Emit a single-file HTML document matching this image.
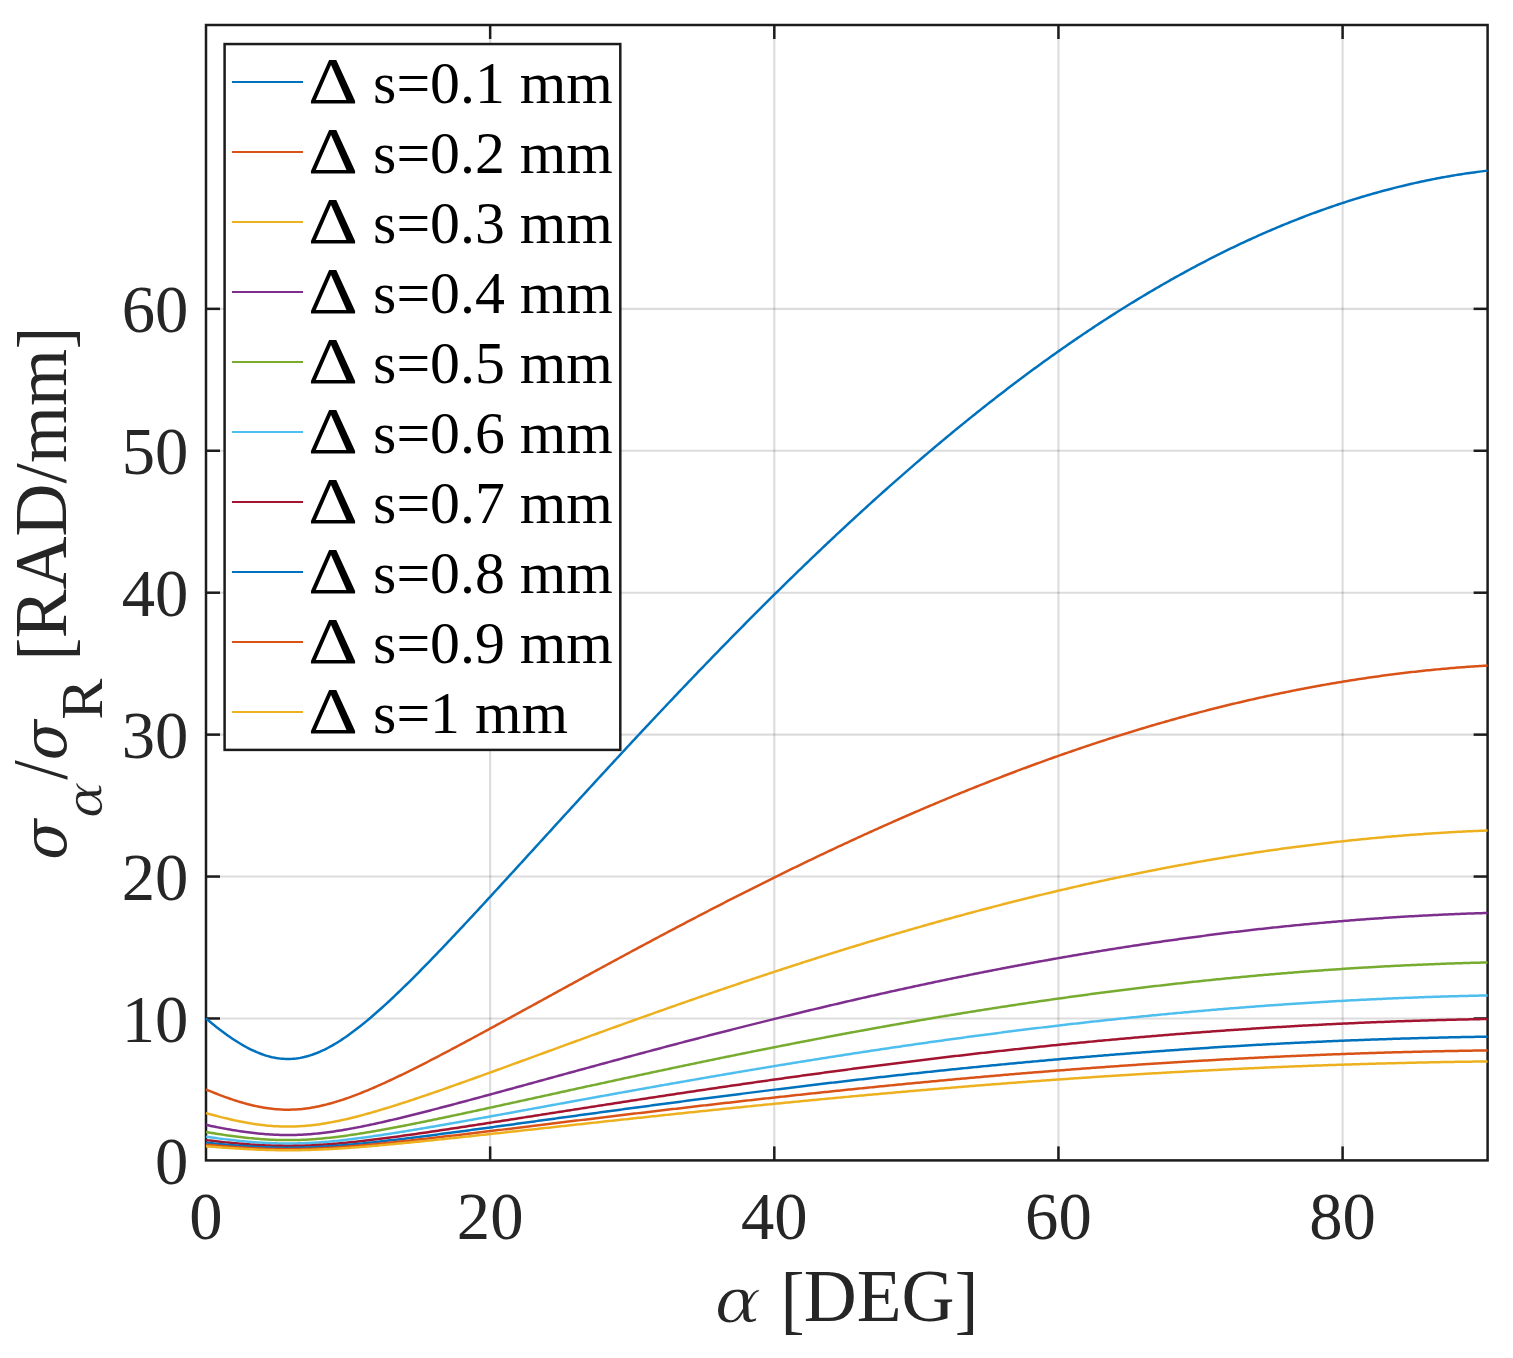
<!DOCTYPE html>
<html lang="en"><head><meta charset="utf-8"><title>sigma alpha / sigma R</title>
<style>html,body{margin:0;padding:0;background:#fff;}body{width:1513px;height:1358px;}svg{display:block;}
text{font-family:'Liberation Serif','DejaVu Serif',serif;fill:#262626;}
.tk{font-size:66.67px;}.lg{font-size:59.80px;fill:#000;}.lb{font-size:73.33px;}
</style></head><body>
<svg width="1513" height="1358" viewBox="0 0 1513 1358" role="img" aria-label="sigma alpha over sigma R versus alpha">
<rect x="0" y="0" width="1513" height="1358" fill="#fff"/>
<g stroke="#262626" stroke-opacity="0.16" stroke-width="2.10" fill="none">
<line x1="490.15" y1="25.00" x2="490.15" y2="1160.40"/>
<line x1="774.30" y1="25.00" x2="774.30" y2="1160.40"/>
<line x1="1058.45" y1="25.00" x2="1058.45" y2="1160.40"/>
<line x1="1342.60" y1="25.00" x2="1342.60" y2="1160.40"/>
<line x1="206.00" y1="1018.48" x2="1487.60" y2="1018.48"/>
<line x1="206.00" y1="876.55" x2="1487.60" y2="876.55"/>
<line x1="206.00" y1="734.63" x2="1487.60" y2="734.63"/>
<line x1="206.00" y1="592.70" x2="1487.60" y2="592.70"/>
<line x1="206.00" y1="450.77" x2="1487.60" y2="450.77"/>
<line x1="206.00" y1="308.85" x2="1487.60" y2="308.85"/>
</g>
<g stroke="#1c1c1c" stroke-width="2.50" fill="none">
<rect x="206.00" y="25.00" width="1281.60" height="1135.40"/>
<line x1="490.15" y1="1160.40" x2="490.15" y2="1146.40"/>
<line x1="490.15" y1="25.00" x2="490.15" y2="39.00"/>
<line x1="774.30" y1="1160.40" x2="774.30" y2="1146.40"/>
<line x1="774.30" y1="25.00" x2="774.30" y2="39.00"/>
<line x1="1058.45" y1="1160.40" x2="1058.45" y2="1146.40"/>
<line x1="1058.45" y1="25.00" x2="1058.45" y2="39.00"/>
<line x1="1342.60" y1="1160.40" x2="1342.60" y2="1146.40"/>
<line x1="1342.60" y1="25.00" x2="1342.60" y2="39.00"/>
<line x1="206.00" y1="1018.48" x2="220.00" y2="1018.48"/>
<line x1="1487.60" y1="1018.48" x2="1473.60" y2="1018.48"/>
<line x1="206.00" y1="876.55" x2="220.00" y2="876.55"/>
<line x1="1487.60" y1="876.55" x2="1473.60" y2="876.55"/>
<line x1="206.00" y1="734.63" x2="220.00" y2="734.63"/>
<line x1="1487.60" y1="734.63" x2="1473.60" y2="734.63"/>
<line x1="206.00" y1="592.70" x2="220.00" y2="592.70"/>
<line x1="1487.60" y1="592.70" x2="1473.60" y2="592.70"/>
<line x1="206.00" y1="450.77" x2="220.00" y2="450.77"/>
<line x1="1487.60" y1="450.77" x2="1473.60" y2="450.77"/>
<line x1="206.00" y1="308.85" x2="220.00" y2="308.85"/>
<line x1="1487.60" y1="308.85" x2="1473.60" y2="308.85"/>
</g>
<g fill="none" stroke-width="2.50" stroke-linejoin="round">
<polyline stroke="#0072BD" points="206.00,1018.48 208.00,1020.16 210.00,1021.82 212.01,1023.46 214.01,1025.07 216.01,1026.67 218.01,1028.23 220.02,1029.77 222.02,1031.29 224.02,1032.77 226.03,1034.23 228.03,1035.66 230.03,1037.06 232.03,1038.42 234.03,1039.75 236.04,1041.05 238.04,1042.31 240.04,1043.54 242.04,1044.72 244.05,1045.87 246.05,1046.98 248.05,1048.05 250.06,1049.07 252.06,1050.05 254.06,1050.98 256.06,1051.87 258.06,1052.71 260.07,1053.50 262.07,1054.24 264.07,1054.94 266.07,1055.58 268.08,1056.16 270.08,1056.69 272.08,1057.17 274.08,1057.60 276.09,1057.96 278.09,1058.27 280.09,1058.53 282.10,1058.72 284.10,1058.86 286.10,1058.94 288.10,1058.96 290.11,1058.92 292.11,1058.83 294.11,1058.67 296.11,1058.46 298.12,1058.19 300.12,1057.87 302.12,1057.48 304.12,1057.04 306.12,1056.55 308.13,1056.00 310.13,1055.40 312.13,1054.75 314.13,1054.04 316.14,1053.29 318.14,1052.48 320.14,1051.63 322.14,1050.72 324.15,1049.78 326.15,1048.79 328.15,1047.75 330.15,1046.67 332.16,1045.55 334.16,1044.39 336.16,1043.20 338.16,1041.96 340.17,1040.69 342.17,1039.38 344.17,1038.04 346.17,1036.67 348.18,1035.26 350.18,1033.83 352.18,1032.36 354.18,1030.87 356.19,1029.34 358.19,1027.80 360.19,1026.22 362.19,1024.62 364.20,1023.00 366.20,1021.36 368.20,1019.69 370.20,1018.00 372.21,1016.29 374.21,1014.56 376.21,1012.81 378.21,1011.05 380.22,1009.26 382.22,1007.46 384.22,1005.65 386.23,1003.81 388.23,1001.97 390.23,1000.10 392.23,998.23 394.23,996.34 396.24,994.44 398.24,992.52 400.24,990.59 402.25,988.65 404.25,986.70 406.25,984.74 408.25,982.77 410.25,980.79 412.26,978.80 414.26,976.80 416.26,974.80 418.26,972.78 420.27,970.75 422.27,968.72 424.27,966.68 426.27,964.63 428.28,962.58 430.28,960.52 432.28,958.45 434.28,956.37 436.29,954.29 438.29,952.21 440.29,950.12 442.30,948.02 444.30,945.92 446.30,943.81 448.30,941.70 450.30,939.58 452.31,937.46 454.31,935.34 456.31,933.21 458.31,931.08 460.32,928.94 462.32,926.80 464.32,924.66 466.32,922.51 468.33,920.36 470.33,918.21 472.33,916.05 474.33,913.89 476.34,911.73 478.34,909.57 480.34,907.40 482.34,905.23 484.35,903.06 486.35,900.89 488.35,898.72 490.36,896.54 492.36,894.36 494.36,892.18 496.36,890.00 498.37,887.82 500.37,885.63 502.37,883.45 504.37,881.26 506.37,879.07 508.38,876.88 510.38,874.69 512.38,872.50 514.38,870.31 516.39,868.12 518.39,865.93 520.39,863.73 522.39,861.54 524.40,859.34 526.40,857.15 528.40,854.95 530.40,852.76 532.41,850.56 534.41,848.36 536.41,846.17 538.41,843.97 540.42,841.77 542.42,839.58 544.42,837.38 546.42,835.18 548.43,832.99 550.43,830.79 552.43,828.60 554.43,826.40 556.44,824.21 558.44,822.01 560.44,819.82 562.44,817.62 564.45,815.43 566.45,813.24 568.45,811.05 570.45,808.86 572.46,806.66 574.46,804.48 576.46,802.29 578.46,800.10 580.47,797.91 582.47,795.72 584.47,793.54 586.47,791.35 588.48,789.17 590.48,786.99 592.48,784.81 594.48,782.63 596.49,780.45 598.49,778.27 600.49,776.09 602.50,773.92 604.50,771.74 606.50,769.57 608.50,767.40 610.50,765.23 612.51,763.06 614.51,760.89 616.51,758.73 618.52,756.56 620.52,754.40 622.52,752.24 624.52,750.08 626.53,747.92 628.53,745.76 630.53,743.61 632.53,741.46 634.53,739.30 636.54,737.15 638.54,735.01 640.54,732.86 642.54,730.72 644.55,728.57 646.55,726.43 648.55,724.29 650.56,722.16 652.56,720.02 654.56,717.89 656.56,715.76 658.56,713.63 660.57,711.50 662.57,709.37 664.57,707.25 666.58,705.13 668.58,703.01 670.58,700.89 672.58,698.78 674.59,696.67 676.59,694.56 678.59,692.45 680.59,690.34 682.60,688.24 684.60,686.14 686.60,684.04 688.60,681.94 690.61,679.85 692.61,677.75 694.61,675.66 696.61,673.58 698.62,671.49 700.62,669.41 702.62,667.33 704.62,665.25 706.62,663.18 708.63,661.10 710.63,659.03 712.63,656.97 714.63,654.90 716.64,652.84 718.64,650.78 720.64,648.72 722.64,646.67 724.65,644.62 726.65,642.57 728.65,640.52 730.65,638.48 732.66,636.44 734.66,634.40 736.66,632.36 738.66,630.33 740.67,628.30 742.67,626.27 744.67,624.25 746.68,622.23 748.68,620.21 750.68,618.19 752.68,616.18 754.68,614.17 756.69,612.16 758.69,610.16 760.69,608.16 762.69,606.16 764.70,604.16 766.70,602.17 768.70,600.18 770.70,598.20 772.71,596.21 774.71,594.23 776.71,592.26 778.71,590.28 780.72,588.31 782.72,586.34 784.72,584.38 786.73,582.42 788.73,580.46 790.73,578.51 792.73,576.55 794.74,574.61 796.74,572.66 798.74,570.72 800.74,568.78 802.75,566.85 804.75,564.91 806.75,562.98 808.75,561.06 810.75,559.14 812.76,557.22 814.76,555.30 816.76,553.39 818.76,551.48 820.77,549.58 822.77,547.68 824.77,545.78 826.77,543.88 828.78,541.99 830.78,540.10 832.78,538.22 834.78,536.34 836.79,534.46 838.79,532.59 840.79,530.72 842.79,528.85 844.80,526.99 846.80,525.13 848.80,523.27 850.80,521.42 852.81,519.57 854.81,517.73 856.81,515.88 858.82,514.05 860.82,512.21 862.82,510.38 864.82,508.56 866.82,506.73 868.83,504.91 870.83,503.10 872.83,501.29 874.83,499.48 876.84,497.67 878.84,495.87 880.84,494.08 882.84,492.28 884.85,490.50 886.85,488.71 888.85,486.93 890.86,485.15 892.86,483.38 894.86,481.61 896.86,479.84 898.87,478.08 900.87,476.33 902.87,474.57 904.87,472.82 906.87,471.08 908.88,469.33 910.88,467.60 912.88,465.86 914.88,464.13 916.89,462.41 918.89,460.69 920.89,458.97 922.89,457.25 924.90,455.54 926.90,453.84 928.90,452.14 930.90,450.44 932.91,448.75 934.91,447.06 936.91,445.37 938.91,443.69 940.92,442.02 942.92,440.34 944.92,438.68 946.92,437.01 948.93,435.35 950.93,433.70 952.93,432.05 954.93,430.40 956.94,428.76 958.94,427.12 960.94,425.48 962.95,423.85 964.95,422.23 966.95,420.61 968.95,418.99 970.95,417.38 972.96,415.77 974.96,414.16 976.96,412.57 978.97,410.97 980.97,409.38 982.97,407.79 984.97,406.21 986.98,404.63 988.98,403.06 990.98,401.49 992.98,399.93 994.98,398.37 996.99,396.81 998.99,395.26 1000.99,393.72 1003.00,392.17 1005.00,390.64 1007.00,389.10 1009.00,387.58 1011.00,386.05 1013.01,384.53 1015.01,383.02 1017.01,381.51 1019.01,380.00 1021.02,378.50 1023.02,377.01 1025.02,375.51 1027.02,374.03 1029.03,372.54 1031.03,371.07 1033.03,369.59 1035.03,368.13 1037.04,366.66 1039.04,365.20 1041.04,363.75 1043.04,362.30 1045.05,360.85 1047.05,359.41 1049.05,357.98 1051.05,356.55 1053.06,355.12 1055.06,353.70 1057.06,352.28 1059.06,350.87 1061.07,349.46 1063.07,348.06 1065.07,346.67 1067.07,345.27 1069.08,343.89 1071.08,342.50 1073.08,341.12 1075.09,339.75 1077.09,338.38 1079.09,337.02 1081.09,335.66 1083.10,334.31 1085.10,332.96 1087.10,331.61 1089.10,330.28 1091.11,328.94 1093.11,327.61 1095.11,326.29 1097.11,324.97 1099.11,323.65 1101.12,322.34 1103.12,321.04 1105.12,319.74 1107.12,318.45 1109.13,317.16 1111.13,315.87 1113.13,314.59 1115.14,313.32 1117.14,312.05 1119.14,310.78 1121.14,309.52 1123.14,308.27 1125.15,307.02 1127.15,305.78 1129.15,304.54 1131.15,303.30 1133.16,302.07 1135.16,300.85 1137.16,299.63 1139.16,298.42 1141.17,297.21 1143.17,296.01 1145.17,294.81 1147.17,293.62 1149.18,292.43 1151.18,291.24 1153.18,290.07 1155.18,288.89 1157.19,287.73 1159.19,286.57 1161.19,285.41 1163.20,284.26 1165.20,283.11 1167.20,281.97 1169.20,280.83 1171.20,279.70 1173.21,278.58 1175.21,277.46 1177.21,276.34 1179.21,275.23 1181.22,274.13 1183.22,273.03 1185.22,271.93 1187.22,270.84 1189.23,269.76 1191.23,268.68 1193.23,267.61 1195.23,266.54 1197.24,265.48 1199.24,264.42 1201.24,263.37 1203.24,262.33 1205.25,261.29 1207.25,260.25 1209.25,259.22 1211.26,258.20 1213.26,257.18 1215.26,256.16 1217.26,255.15 1219.26,254.15 1221.27,253.15 1223.27,252.16 1225.27,251.17 1227.28,250.19 1229.28,249.22 1231.28,248.24 1233.28,247.28 1235.28,246.32 1237.29,245.37 1239.29,244.42 1241.29,243.47 1243.29,242.54 1245.30,241.60 1247.30,240.68 1249.30,239.75 1251.30,238.84 1253.31,237.93 1255.31,237.02 1257.31,236.12 1259.32,235.23 1261.32,234.34 1263.32,233.46 1265.32,232.58 1267.32,231.71 1269.33,230.84 1271.33,229.98 1273.33,229.13 1275.33,228.28 1277.34,227.43 1279.34,226.59 1281.34,225.76 1283.35,224.93 1285.35,224.11 1287.35,223.30 1289.35,222.49 1291.36,221.68 1293.36,220.88 1295.36,220.09 1297.36,219.30 1299.37,218.52 1301.37,217.74 1303.37,216.97 1305.37,216.20 1307.37,215.44 1309.38,214.69 1311.38,213.94 1313.38,213.20 1315.38,212.46 1317.39,211.73 1319.39,211.00 1321.39,210.28 1323.39,209.57 1325.40,208.86 1327.40,208.15 1329.40,207.46 1331.40,206.76 1333.41,206.08 1335.41,205.40 1337.41,204.72 1339.41,204.05 1341.42,203.39 1343.42,202.73 1345.42,202.08 1347.42,201.43 1349.43,200.79 1351.43,200.16 1353.43,199.53 1355.43,198.91 1357.44,198.29 1359.44,197.68 1361.44,197.07 1363.44,196.47 1365.45,195.88 1367.45,195.29 1369.45,194.71 1371.45,194.13 1373.46,193.56 1375.46,192.99 1377.46,192.43 1379.46,191.88 1381.47,191.33 1383.47,190.79 1385.47,190.25 1387.47,189.72 1389.48,189.19 1391.48,188.67 1393.48,188.16 1395.48,187.65 1397.49,187.15 1399.49,186.66 1401.49,186.17 1403.49,185.68 1405.50,185.20 1407.50,184.73 1409.50,184.26 1411.50,183.80 1413.51,183.35 1415.51,182.90 1417.51,182.45 1419.52,182.02 1421.52,181.59 1423.52,181.16 1425.52,180.74 1427.53,180.33 1429.53,179.92 1431.53,179.51 1433.53,179.12 1435.53,178.73 1437.54,178.34 1439.54,177.96 1441.54,177.59 1443.55,177.22 1445.55,176.86 1447.55,176.51 1449.55,176.16 1451.55,175.81 1453.56,175.48 1455.56,175.14 1457.56,174.82 1459.56,174.50 1461.57,174.18 1463.57,173.88 1465.57,173.57 1467.58,173.28 1469.58,172.99 1471.58,172.70 1473.58,172.42 1475.58,172.15 1477.59,171.88 1479.59,171.62 1481.59,171.37 1483.59,171.12 1485.60,170.88 1487.60,170.64"/>
<polyline stroke="#D95319" points="206.00,1089.44 208.00,1090.28 210.00,1091.11 212.01,1091.93 214.01,1092.74 216.01,1093.53 218.01,1094.32 220.02,1095.09 222.02,1095.84 224.02,1096.59 226.03,1097.32 228.03,1098.03 230.03,1098.73 232.03,1099.41 234.03,1100.08 236.04,1100.72 238.04,1101.36 240.04,1101.97 242.04,1102.56 244.05,1103.14 246.05,1103.69 248.05,1104.22 250.06,1104.73 252.06,1105.22 254.06,1105.69 256.06,1106.14 258.06,1106.56 260.07,1106.95 262.07,1107.32 264.07,1107.67 266.07,1107.99 268.08,1108.28 270.08,1108.55 272.08,1108.79 274.08,1109.00 276.09,1109.18 278.09,1109.34 280.09,1109.46 282.10,1109.56 284.10,1109.63 286.10,1109.67 288.10,1109.68 290.11,1109.66 292.11,1109.61 294.11,1109.54 296.11,1109.43 298.12,1109.30 300.12,1109.13 302.12,1108.94 304.12,1108.72 306.12,1108.48 308.13,1108.20 310.13,1107.90 312.13,1107.57 314.13,1107.22 316.14,1106.84 318.14,1106.44 320.14,1106.01 322.14,1105.56 324.15,1105.09 326.15,1104.59 328.15,1104.08 330.15,1103.54 332.16,1102.98 334.16,1102.40 336.16,1101.80 338.16,1101.18 340.17,1100.54 342.17,1099.89 344.17,1099.22 346.17,1098.53 348.18,1097.83 350.18,1097.11 352.18,1096.38 354.18,1095.63 356.19,1094.87 358.19,1094.10 360.19,1093.31 362.19,1092.51 364.20,1091.70 366.20,1090.88 368.20,1090.04 370.20,1089.20 372.21,1088.35 374.21,1087.48 376.21,1086.61 378.21,1085.72 380.22,1084.83 382.22,1083.93 384.22,1083.02 386.23,1082.11 388.23,1081.18 390.23,1080.25 392.23,1079.31 394.23,1078.37 396.24,1077.42 398.24,1076.46 400.24,1075.50 402.25,1074.53 404.25,1073.55 406.25,1072.57 408.25,1071.59 410.25,1070.60 412.26,1069.60 414.26,1068.60 416.26,1067.60 418.26,1066.59 420.27,1065.58 422.27,1064.56 424.27,1063.54 426.27,1062.52 428.28,1061.49 430.28,1060.46 432.28,1059.42 434.28,1058.39 436.29,1057.35 438.29,1056.30 440.29,1055.26 442.30,1054.21 444.30,1053.16 446.30,1052.11 448.30,1051.05 450.30,1049.99 452.31,1048.93 454.31,1047.87 456.31,1046.80 458.31,1045.74 460.32,1044.67 462.32,1043.60 464.32,1042.53 466.32,1041.45 468.33,1040.38 470.33,1039.30 472.33,1038.23 474.33,1037.15 476.34,1036.07 478.34,1034.98 480.34,1033.90 482.34,1032.82 484.35,1031.73 486.35,1030.64 488.35,1029.56 490.36,1028.47 492.36,1027.38 494.36,1026.29 496.36,1025.20 498.37,1024.11 500.37,1023.02 502.37,1021.92 504.37,1020.83 506.37,1019.74 508.38,1018.64 510.38,1017.55 512.38,1016.45 514.38,1015.36 516.39,1014.26 518.39,1013.16 520.39,1012.07 522.39,1010.97 524.40,1009.87 526.40,1008.77 528.40,1007.68 530.40,1006.58 532.41,1005.48 534.41,1004.38 536.41,1003.28 538.41,1002.19 540.42,1001.09 542.42,999.99 544.42,998.89 546.42,997.79 548.43,996.69 550.43,995.60 552.43,994.50 554.43,993.40 556.44,992.30 558.44,991.21 560.44,990.11 562.44,989.01 564.45,987.92 566.45,986.82 568.45,985.72 570.45,984.63 572.46,983.53 574.46,982.44 576.46,981.34 578.46,980.25 580.47,979.16 582.47,978.06 584.47,976.97 586.47,975.88 588.48,974.79 590.48,973.69 592.48,972.60 594.48,971.51 596.49,970.42 598.49,969.34 600.49,968.25 602.50,967.16 604.50,966.07 606.50,964.99 608.50,963.90 610.50,962.81 612.51,961.73 614.51,960.65 616.51,959.56 618.52,958.48 620.52,957.40 622.52,956.32 624.52,955.24 626.53,954.16 628.53,953.08 630.53,952.00 632.53,950.93 634.53,949.85 636.54,948.78 638.54,947.70 640.54,946.63 642.54,945.56 644.55,944.49 646.55,943.42 648.55,942.35 650.56,941.28 652.56,940.21 654.56,939.14 656.56,938.08 658.56,937.01 660.57,935.95 662.57,934.89 664.57,933.83 666.58,932.76 668.58,931.71 670.58,930.65 672.58,929.59 674.59,928.53 676.59,927.48 678.59,926.42 680.59,925.37 682.60,924.32 684.60,923.27 686.60,922.22 688.60,921.17 690.61,920.12 692.61,919.08 694.61,918.03 696.61,916.99 698.62,915.95 700.62,914.91 702.62,913.87 704.62,912.83 706.62,911.79 708.63,910.75 710.63,909.72 712.63,908.68 714.63,907.65 716.64,906.62 718.64,905.59 720.64,904.56 722.64,903.53 724.65,902.51 726.65,901.48 728.65,900.46 730.65,899.44 732.66,898.42 734.66,897.40 736.66,896.38 738.66,895.36 740.67,894.35 742.67,893.34 744.67,892.32 746.68,891.31 748.68,890.30 750.68,889.30 752.68,888.29 754.68,887.28 756.69,886.28 758.69,885.28 760.69,884.28 762.69,883.28 764.70,882.28 766.70,881.29 768.70,880.29 770.70,879.30 772.71,878.31 774.71,877.32 776.71,876.33 778.71,875.34 780.72,874.36 782.72,873.37 784.72,872.39 786.73,871.41 788.73,870.43 790.73,869.45 792.73,868.48 794.74,867.50 796.74,866.53 798.74,865.56 800.74,864.59 802.75,863.62 804.75,862.66 806.75,861.69 808.75,860.73 810.75,859.77 812.76,858.81 814.76,857.85 816.76,856.90 818.76,855.94 820.77,854.99 822.77,854.04 824.77,853.09 826.77,852.14 828.78,851.20 830.78,850.25 832.78,849.31 834.78,848.37 836.79,847.43 838.79,846.49 840.79,845.56 842.79,844.63 844.80,843.69 846.80,842.76 848.80,841.84 850.80,840.91 852.81,839.99 854.81,839.06 856.81,838.14 858.82,837.22 860.82,836.31 862.82,835.39 864.82,834.48 866.82,833.57 868.83,832.66 870.83,831.75 872.83,830.84 874.83,829.94 876.84,829.04 878.84,828.14 880.84,827.24 882.84,826.34 884.85,825.45 886.85,824.56 888.85,823.67 890.86,822.78 892.86,821.89 894.86,821.01 896.86,820.12 898.87,819.24 900.87,818.36 902.87,817.49 904.87,816.61 906.87,815.74 908.88,814.87 910.88,814.00 912.88,813.13 914.88,812.27 916.89,811.40 918.89,810.54 920.89,809.68 922.89,808.83 924.90,807.97 926.90,807.12 928.90,806.27 930.90,805.42 932.91,804.57 934.91,803.73 936.91,802.89 938.91,802.05 940.92,801.21 942.92,800.37 944.92,799.54 946.92,798.71 948.93,797.88 950.93,797.05 952.93,796.22 954.93,795.40 956.94,794.58 958.94,793.76 960.94,792.94 962.95,792.13 964.95,791.31 966.95,790.50 968.95,789.69 970.95,788.89 972.96,788.08 974.96,787.28 976.96,786.48 978.97,785.69 980.97,784.89 982.97,784.10 984.97,783.31 986.98,782.52 988.98,781.73 990.98,780.95 992.98,780.16 994.98,779.38 996.99,778.61 998.99,777.83 1000.99,777.06 1003.00,776.29 1005.00,775.52 1007.00,774.75 1009.00,773.99 1011.00,773.23 1013.01,772.47 1015.01,771.71 1017.01,770.95 1019.01,770.20 1021.02,769.45 1023.02,768.70 1025.02,767.96 1027.02,767.21 1029.03,766.47 1031.03,765.73 1033.03,765.00 1035.03,764.26 1037.04,763.53 1039.04,762.80 1041.04,762.07 1043.04,761.35 1045.05,760.63 1047.05,759.91 1049.05,759.19 1051.05,758.47 1053.06,757.76 1055.06,757.05 1057.06,756.34 1059.06,755.64 1061.07,754.93 1063.07,754.23 1065.07,753.53 1067.07,752.84 1069.08,752.14 1071.08,751.45 1073.08,750.76 1075.09,750.08 1077.09,749.39 1079.09,748.71 1081.09,748.03 1083.10,747.35 1085.10,746.68 1087.10,746.01 1089.10,745.34 1091.11,744.67 1093.11,744.01 1095.11,743.34 1097.11,742.68 1099.11,742.03 1101.12,741.37 1103.12,740.72 1105.12,740.07 1107.12,739.42 1109.13,738.78 1111.13,738.14 1113.13,737.50 1115.14,736.86 1117.14,736.22 1119.14,735.59 1121.14,734.96 1123.14,734.34 1125.15,733.71 1127.15,733.09 1129.15,732.47 1131.15,731.85 1133.16,731.24 1135.16,730.63 1137.16,730.02 1139.16,729.41 1141.17,728.81 1143.17,728.20 1145.17,727.60 1147.17,727.01 1149.18,726.41 1151.18,725.82 1153.18,725.23 1155.18,724.65 1157.19,724.06 1159.19,723.48 1161.19,722.90 1163.20,722.33 1165.20,721.75 1167.20,721.18 1169.20,720.62 1171.20,720.05 1173.21,719.49 1175.21,718.93 1177.21,718.37 1179.21,717.82 1181.22,717.26 1183.22,716.71 1185.22,716.17 1187.22,715.62 1189.23,715.08 1191.23,714.54 1193.23,714.01 1195.23,713.47 1197.24,712.94 1199.24,712.41 1201.24,711.89 1203.24,711.36 1205.25,710.84 1207.25,710.32 1209.25,709.81 1211.26,709.30 1213.26,708.79 1215.26,708.28 1217.26,707.78 1219.26,707.28 1221.27,706.78 1223.27,706.28 1225.27,705.79 1227.28,705.30 1229.28,704.81 1231.28,704.32 1233.28,703.84 1235.28,703.36 1237.29,702.88 1239.29,702.41 1241.29,701.94 1243.29,701.47 1245.30,701.00 1247.30,700.54 1249.30,700.08 1251.30,699.62 1253.31,699.16 1255.31,698.71 1257.31,698.26 1259.32,697.81 1261.32,697.37 1263.32,696.93 1265.32,696.49 1267.32,696.05 1269.33,695.62 1271.33,695.19 1273.33,694.76 1275.33,694.34 1277.34,693.92 1279.34,693.50 1281.34,693.08 1283.35,692.67 1285.35,692.26 1287.35,691.85 1289.35,691.44 1291.36,691.04 1293.36,690.64 1295.36,690.24 1297.36,689.85 1299.37,689.46 1301.37,689.07 1303.37,688.68 1305.37,688.30 1307.37,687.92 1309.38,687.54 1311.38,687.17 1313.38,686.80 1315.38,686.43 1317.39,686.06 1319.39,685.70 1321.39,685.34 1323.39,684.98 1325.40,684.63 1327.40,684.28 1329.40,683.93 1331.40,683.58 1333.41,683.24 1335.41,682.90 1337.41,682.56 1339.41,682.23 1341.42,681.90 1343.42,681.57 1345.42,681.24 1347.42,680.92 1349.43,680.60 1351.43,680.28 1353.43,679.97 1355.43,679.65 1357.44,679.34 1359.44,679.04 1361.44,678.74 1363.44,678.44 1365.45,678.14 1367.45,677.84 1369.45,677.55 1371.45,677.26 1373.46,676.98 1375.46,676.70 1377.46,676.42 1379.46,676.14 1381.47,675.86 1383.47,675.59 1385.47,675.32 1387.47,675.06 1389.48,674.80 1391.48,674.54 1393.48,674.28 1395.48,674.03 1397.49,673.78 1399.49,673.53 1401.49,673.28 1403.49,673.04 1405.50,672.80 1407.50,672.57 1409.50,672.33 1411.50,672.10 1413.51,671.87 1415.51,671.65 1417.51,671.43 1419.52,671.21 1421.52,670.99 1423.52,670.78 1425.52,670.57 1427.53,670.36 1429.53,670.16 1431.53,669.96 1433.53,669.76 1435.53,669.56 1437.54,669.37 1439.54,669.18 1441.54,669.00 1443.55,668.81 1445.55,668.63 1447.55,668.45 1449.55,668.28 1451.55,668.11 1453.56,667.94 1455.56,667.77 1457.56,667.61 1459.56,667.45 1461.57,667.29 1463.57,667.14 1465.57,666.99 1467.58,666.84 1469.58,666.69 1471.58,666.55 1473.58,666.41 1475.58,666.28 1477.59,666.14 1479.59,666.01 1481.59,665.88 1483.59,665.76 1485.60,665.64 1487.60,665.52"/>
<polyline stroke="#EDB120" points="206.00,1113.09 208.00,1113.65 210.00,1114.21 212.01,1114.75 214.01,1115.29 216.01,1115.82 218.01,1116.34 220.02,1116.86 222.02,1117.36 224.02,1117.86 226.03,1118.34 228.03,1118.82 230.03,1119.29 232.03,1119.74 234.03,1120.18 236.04,1120.62 238.04,1121.04 240.04,1121.45 242.04,1121.84 244.05,1122.22 246.05,1122.59 248.05,1122.95 250.06,1123.29 252.06,1123.62 254.06,1123.93 256.06,1124.22 258.06,1124.50 260.07,1124.77 262.07,1125.01 264.07,1125.25 266.07,1125.46 268.08,1125.65 270.08,1125.83 272.08,1125.99 274.08,1126.13 276.09,1126.25 278.09,1126.36 280.09,1126.44 282.10,1126.51 284.10,1126.55 286.10,1126.58 288.10,1126.59 290.11,1126.57 292.11,1126.54 294.11,1126.49 296.11,1126.42 298.12,1126.33 300.12,1126.22 302.12,1126.09 304.12,1125.95 306.12,1125.78 308.13,1125.60 310.13,1125.40 312.13,1125.18 314.13,1124.95 316.14,1124.70 318.14,1124.43 320.14,1124.14 322.14,1123.84 324.15,1123.53 326.15,1123.20 328.15,1122.85 330.15,1122.49 332.16,1122.12 334.16,1121.73 336.16,1121.33 338.16,1120.92 340.17,1120.50 342.17,1120.06 344.17,1119.61 346.17,1119.16 348.18,1118.69 350.18,1118.21 352.18,1117.72 354.18,1117.22 356.19,1116.71 358.19,1116.20 360.19,1115.67 362.19,1115.14 364.20,1114.60 366.20,1114.05 368.20,1113.50 370.20,1112.93 372.21,1112.36 374.21,1111.79 376.21,1111.20 378.21,1110.62 380.22,1110.02 382.22,1109.42 384.22,1108.82 386.23,1108.20 388.23,1107.59 390.23,1106.97 392.23,1106.34 394.23,1105.71 396.24,1105.08 398.24,1104.44 400.24,1103.80 402.25,1103.15 404.25,1102.50 406.25,1101.85 408.25,1101.19 410.25,1100.53 412.26,1099.87 414.26,1099.20 416.26,1098.53 418.26,1097.86 420.27,1097.18 422.27,1096.51 424.27,1095.83 426.27,1095.14 428.28,1094.46 430.28,1093.77 432.28,1093.08 434.28,1092.39 436.29,1091.70 438.29,1091.00 440.29,1090.31 442.30,1089.61 444.30,1088.91 446.30,1088.20 448.30,1087.50 450.30,1086.79 452.31,1086.09 454.31,1085.38 456.31,1084.67 458.31,1083.96 460.32,1083.25 462.32,1082.53 464.32,1081.82 466.32,1081.10 468.33,1080.39 470.33,1079.67 472.33,1078.95 474.33,1078.23 476.34,1077.51 478.34,1076.79 480.34,1076.07 482.34,1075.34 484.35,1074.62 486.35,1073.90 488.35,1073.17 490.36,1072.45 492.36,1071.72 494.36,1070.99 496.36,1070.27 498.37,1069.54 500.37,1068.81 502.37,1068.08 504.37,1067.35 506.37,1066.62 508.38,1065.89 510.38,1065.16 512.38,1064.43 514.38,1063.70 516.39,1062.97 518.39,1062.24 520.39,1061.51 522.39,1060.78 524.40,1060.05 526.40,1059.32 528.40,1058.58 530.40,1057.85 532.41,1057.12 534.41,1056.39 536.41,1055.66 538.41,1054.92 540.42,1054.19 542.42,1053.46 544.42,1052.73 546.42,1051.99 548.43,1051.26 550.43,1050.53 552.43,1049.80 554.43,1049.07 556.44,1048.34 558.44,1047.60 560.44,1046.87 562.44,1046.14 564.45,1045.41 566.45,1044.68 568.45,1043.95 570.45,1043.22 572.46,1042.49 574.46,1041.76 576.46,1041.03 578.46,1040.30 580.47,1039.57 582.47,1038.84 584.47,1038.11 586.47,1037.38 588.48,1036.66 590.48,1035.93 592.48,1035.20 594.48,1034.48 596.49,1033.75 598.49,1033.02 600.49,1032.30 602.50,1031.57 604.50,1030.85 606.50,1030.12 608.50,1029.40 610.50,1028.68 612.51,1027.95 614.51,1027.23 616.51,1026.51 618.52,1025.79 620.52,1025.07 622.52,1024.35 624.52,1023.63 626.53,1022.91 628.53,1022.19 630.53,1021.47 632.53,1020.75 634.53,1020.03 636.54,1019.32 638.54,1018.60 640.54,1017.89 642.54,1017.17 644.55,1016.46 646.55,1015.74 648.55,1015.03 650.56,1014.32 652.56,1013.61 654.56,1012.90 656.56,1012.19 658.56,1011.48 660.57,1010.77 662.57,1010.06 664.57,1009.35 666.58,1008.64 668.58,1007.94 670.58,1007.23 672.58,1006.53 674.59,1005.82 676.59,1005.12 678.59,1004.42 680.59,1003.71 682.60,1003.01 684.60,1002.31 686.60,1001.61 688.60,1000.91 690.61,1000.22 692.61,999.52 694.61,998.82 696.61,998.13 698.62,997.43 700.62,996.74 702.62,996.04 704.62,995.35 706.62,994.66 708.63,993.97 710.63,993.28 712.63,992.59 714.63,991.90 716.64,991.21 718.64,990.53 720.64,989.84 722.64,989.16 724.65,988.47 726.65,987.79 728.65,987.11 730.65,986.43 732.66,985.75 734.66,985.07 736.66,984.39 738.66,983.71 740.67,983.03 742.67,982.36 744.67,981.68 746.68,981.01 748.68,980.34 750.68,979.66 752.68,978.99 754.68,978.32 756.69,977.65 758.69,976.99 760.69,976.32 762.69,975.65 764.70,974.99 766.70,974.32 768.70,973.66 770.70,973.00 772.71,972.34 774.71,971.68 776.71,971.02 778.71,970.36 780.72,969.70 782.72,969.05 784.72,968.39 786.73,967.74 788.73,967.09 790.73,966.44 792.73,965.78 794.74,965.14 796.74,964.49 798.74,963.84 800.74,963.19 802.75,962.55 804.75,961.90 806.75,961.26 808.75,960.62 810.75,959.98 812.76,959.34 814.76,958.70 816.76,958.06 818.76,957.43 820.77,956.79 822.77,956.16 824.77,955.53 826.77,954.89 828.78,954.26 830.78,953.63 832.78,953.01 834.78,952.38 836.79,951.75 838.79,951.13 840.79,950.51 842.79,949.88 844.80,949.26 846.80,948.64 848.80,948.02 850.80,947.41 852.81,946.79 854.81,946.18 856.81,945.56 858.82,944.95 860.82,944.34 862.82,943.73 864.82,943.12 866.82,942.51 868.83,941.90 870.83,941.30 872.83,940.70 874.83,940.09 876.84,939.49 878.84,938.89 880.84,938.29 882.84,937.69 884.85,937.10 886.85,936.50 888.85,935.91 890.86,935.32 892.86,934.73 894.86,934.14 896.86,933.55 898.87,932.96 900.87,932.38 902.87,931.79 904.87,931.21 906.87,930.63 908.88,930.04 910.88,929.47 912.88,928.89 914.88,928.31 916.89,927.74 918.89,927.16 920.89,926.59 922.89,926.02 924.90,925.45 926.90,924.88 928.90,924.31 930.90,923.75 932.91,923.18 934.91,922.62 936.91,922.06 938.91,921.50 940.92,920.94 942.92,920.38 944.92,919.83 946.92,919.27 948.93,918.72 950.93,918.17 952.93,917.62 954.93,917.07 956.94,916.52 958.94,915.97 960.94,915.43 962.95,914.88 964.95,914.34 966.95,913.80 968.95,913.26 970.95,912.73 972.96,912.19 974.96,911.65 976.96,911.12 978.97,910.59 980.97,910.06 982.97,909.53 984.97,909.00 986.98,908.48 988.98,907.95 990.98,907.43 992.98,906.91 994.98,906.39 996.99,905.87 998.99,905.35 1000.99,904.84 1003.00,904.32 1005.00,903.81 1007.00,903.30 1009.00,902.79 1011.00,902.28 1013.01,901.78 1015.01,901.27 1017.01,900.77 1019.01,900.27 1021.02,899.77 1023.02,899.27 1025.02,898.77 1027.02,898.28 1029.03,897.78 1031.03,897.29 1033.03,896.80 1035.03,896.31 1037.04,895.82 1039.04,895.33 1041.04,894.85 1043.04,894.37 1045.05,893.88 1047.05,893.40 1049.05,892.93 1051.05,892.45 1053.06,891.97 1055.06,891.50 1057.06,891.03 1059.06,890.56 1061.07,890.09 1063.07,889.62 1065.07,889.16 1067.07,888.69 1069.08,888.23 1071.08,887.77 1073.08,887.31 1075.09,886.85 1077.09,886.39 1079.09,885.94 1081.09,885.49 1083.10,885.04 1085.10,884.59 1087.10,884.14 1089.10,883.69 1091.11,883.25 1093.11,882.80 1095.11,882.36 1097.11,881.92 1099.11,881.48 1101.12,881.05 1103.12,880.61 1105.12,880.18 1107.12,879.75 1109.13,879.32 1111.13,878.89 1113.13,878.46 1115.14,878.04 1117.14,877.62 1119.14,877.19 1121.14,876.77 1123.14,876.36 1125.15,875.94 1127.15,875.53 1129.15,875.11 1131.15,874.70 1133.16,874.29 1135.16,873.88 1137.16,873.48 1139.16,873.07 1141.17,872.67 1143.17,872.27 1145.17,871.87 1147.17,871.47 1149.18,871.08 1151.18,870.68 1153.18,870.29 1155.18,869.90 1157.19,869.51 1159.19,869.12 1161.19,868.74 1163.20,868.35 1165.20,867.97 1167.20,867.59 1169.20,867.21 1171.20,866.83 1173.21,866.46 1175.21,866.09 1177.21,865.71 1179.21,865.34 1181.22,864.98 1183.22,864.61 1185.22,864.24 1187.22,863.88 1189.23,863.52 1191.23,863.16 1193.23,862.80 1195.23,862.45 1197.24,862.09 1199.24,861.74 1201.24,861.39 1203.24,861.04 1205.25,860.70 1207.25,860.35 1209.25,860.01 1211.26,859.67 1213.26,859.33 1215.26,858.99 1217.26,858.65 1219.26,858.32 1221.27,857.98 1223.27,857.65 1225.27,857.32 1227.28,857.00 1229.28,856.67 1231.28,856.35 1233.28,856.03 1235.28,855.71 1237.29,855.39 1239.29,855.07 1241.29,854.76 1243.29,854.45 1245.30,854.13 1247.30,853.83 1249.30,853.52 1251.30,853.21 1253.31,852.91 1255.31,852.61 1257.31,852.31 1259.32,852.01 1261.32,851.71 1263.32,851.42 1265.32,851.13 1267.32,850.84 1269.33,850.55 1271.33,850.26 1273.33,849.98 1275.33,849.69 1277.34,849.41 1279.34,849.13 1281.34,848.85 1283.35,848.58 1285.35,848.30 1287.35,848.03 1289.35,847.76 1291.36,847.49 1293.36,847.23 1295.36,846.96 1297.36,846.70 1299.37,846.44 1301.37,846.18 1303.37,845.92 1305.37,845.67 1307.37,845.41 1309.38,845.16 1311.38,844.91 1313.38,844.67 1315.38,844.42 1317.39,844.18 1319.39,843.93 1321.39,843.69 1323.39,843.46 1325.40,843.22 1327.40,842.98 1329.40,842.75 1331.40,842.52 1333.41,842.29 1335.41,842.07 1337.41,841.84 1339.41,841.62 1341.42,841.40 1343.42,841.18 1345.42,840.96 1347.42,840.74 1349.43,840.53 1351.43,840.32 1353.43,840.11 1355.43,839.90 1357.44,839.70 1359.44,839.49 1361.44,839.29 1363.44,839.09 1365.45,838.89 1367.45,838.70 1369.45,838.50 1371.45,838.31 1373.46,838.12 1375.46,837.93 1377.46,837.74 1379.46,837.56 1381.47,837.38 1383.47,837.20 1385.47,837.02 1387.47,836.84 1389.48,836.66 1391.48,836.49 1393.48,836.32 1395.48,836.15 1397.49,835.98 1399.49,835.82 1401.49,835.66 1403.49,835.49 1405.50,835.33 1407.50,835.18 1409.50,835.02 1411.50,834.87 1413.51,834.72 1415.51,834.57 1417.51,834.42 1419.52,834.27 1421.52,834.13 1423.52,833.99 1425.52,833.85 1427.53,833.71 1429.53,833.57 1431.53,833.44 1433.53,833.31 1435.53,833.18 1437.54,833.05 1439.54,832.92 1441.54,832.80 1443.55,832.67 1445.55,832.55 1447.55,832.44 1449.55,832.32 1451.55,832.20 1453.56,832.09 1455.56,831.98 1457.56,831.87 1459.56,831.77 1461.57,831.66 1463.57,831.56 1465.57,831.46 1467.58,831.36 1469.58,831.26 1471.58,831.17 1473.58,831.07 1475.58,830.98 1477.59,830.89 1479.59,830.81 1481.59,830.72 1483.59,830.64 1485.60,830.56 1487.60,830.48"/>
<polyline stroke="#7E2F8E" points="206.00,1124.92 208.00,1125.34 210.00,1125.75 212.01,1126.16 214.01,1126.57 216.01,1126.97 218.01,1127.36 220.02,1127.74 222.02,1128.12 224.02,1128.49 226.03,1128.86 228.03,1129.21 230.03,1129.56 232.03,1129.91 234.03,1130.24 236.04,1130.56 238.04,1130.88 240.04,1131.18 242.04,1131.48 244.05,1131.77 246.05,1132.04 248.05,1132.31 250.06,1132.57 252.06,1132.81 254.06,1133.05 256.06,1133.27 258.06,1133.48 260.07,1133.68 262.07,1133.86 264.07,1134.03 266.07,1134.19 268.08,1134.34 270.08,1134.47 272.08,1134.59 274.08,1134.70 276.09,1134.79 278.09,1134.87 280.09,1134.93 282.10,1134.98 284.10,1135.01 286.10,1135.03 288.10,1135.04 290.11,1135.03 292.11,1135.01 294.11,1134.97 296.11,1134.92 298.12,1134.85 300.12,1134.77 302.12,1134.67 304.12,1134.56 306.12,1134.44 308.13,1134.30 310.13,1134.15 312.13,1133.99 314.13,1133.81 316.14,1133.62 318.14,1133.42 320.14,1133.21 322.14,1132.98 324.15,1132.74 326.15,1132.50 328.15,1132.24 330.15,1131.97 332.16,1131.69 334.16,1131.40 336.16,1131.10 338.16,1130.79 340.17,1130.47 342.17,1130.15 344.17,1129.81 346.17,1129.47 348.18,1129.12 350.18,1128.76 352.18,1128.39 354.18,1128.02 356.19,1127.64 358.19,1127.25 360.19,1126.86 362.19,1126.46 364.20,1126.05 366.20,1125.64 368.20,1125.22 370.20,1124.80 372.21,1124.37 374.21,1123.94 376.21,1123.50 378.21,1123.06 380.22,1122.62 382.22,1122.17 384.22,1121.71 386.23,1121.25 388.23,1120.79 390.23,1120.33 392.23,1119.86 394.23,1119.38 396.24,1118.91 398.24,1118.43 400.24,1117.95 402.25,1117.46 404.25,1116.98 406.25,1116.49 408.25,1115.99 410.25,1115.50 412.26,1115.00 414.26,1114.50 416.26,1114.00 418.26,1113.49 420.27,1112.99 422.27,1112.48 424.27,1111.97 426.27,1111.46 428.28,1110.94 430.28,1110.43 432.28,1109.91 434.28,1109.39 436.29,1108.87 438.29,1108.35 440.29,1107.83 442.30,1107.31 444.30,1106.78 446.30,1106.25 448.30,1105.72 450.30,1105.20 452.31,1104.67 454.31,1104.13 456.31,1103.60 458.31,1103.07 460.32,1102.53 462.32,1102.00 464.32,1101.46 466.32,1100.93 468.33,1100.39 470.33,1099.85 472.33,1099.31 474.33,1098.77 476.34,1098.23 478.34,1097.69 480.34,1097.15 482.34,1096.61 484.35,1096.07 486.35,1095.52 488.35,1094.98 490.36,1094.43 492.36,1093.89 494.36,1093.35 496.36,1092.80 498.37,1092.25 500.37,1091.71 502.37,1091.16 504.37,1090.62 506.37,1090.07 508.38,1089.52 510.38,1088.97 512.38,1088.43 514.38,1087.88 516.39,1087.33 518.39,1086.78 520.39,1086.23 522.39,1085.68 524.40,1085.14 526.40,1084.59 528.40,1084.04 530.40,1083.49 532.41,1082.94 534.41,1082.39 536.41,1081.84 538.41,1081.29 540.42,1080.74 542.42,1080.19 544.42,1079.65 546.42,1079.10 548.43,1078.55 550.43,1078.00 552.43,1077.45 554.43,1076.90 556.44,1076.35 558.44,1075.80 560.44,1075.25 562.44,1074.71 564.45,1074.16 566.45,1073.61 568.45,1073.06 570.45,1072.51 572.46,1071.97 574.46,1071.42 576.46,1070.87 578.46,1070.32 580.47,1069.78 582.47,1069.23 584.47,1068.68 586.47,1068.14 588.48,1067.59 590.48,1067.05 592.48,1066.50 594.48,1065.96 596.49,1065.41 598.49,1064.87 600.49,1064.32 602.50,1063.78 604.50,1063.24 606.50,1062.69 608.50,1062.15 610.50,1061.61 612.51,1061.07 614.51,1060.52 616.51,1059.98 618.52,1059.44 620.52,1058.90 622.52,1058.36 624.52,1057.82 626.53,1057.28 628.53,1056.74 630.53,1056.20 632.53,1055.66 634.53,1055.13 636.54,1054.59 638.54,1054.05 640.54,1053.51 642.54,1052.98 644.55,1052.44 646.55,1051.91 648.55,1051.37 650.56,1050.84 652.56,1050.31 654.56,1049.77 656.56,1049.24 658.56,1048.71 660.57,1048.17 662.57,1047.64 664.57,1047.11 666.58,1046.58 668.58,1046.05 670.58,1045.52 672.58,1044.99 674.59,1044.47 676.59,1043.94 678.59,1043.41 680.59,1042.89 682.60,1042.36 684.60,1041.83 686.60,1041.31 688.60,1040.79 690.61,1040.26 692.61,1039.74 694.61,1039.22 696.61,1038.69 698.62,1038.17 700.62,1037.65 702.62,1037.13 704.62,1036.61 706.62,1036.09 708.63,1035.58 710.63,1035.06 712.63,1034.54 714.63,1034.03 716.64,1033.51 718.64,1033.00 720.64,1032.48 722.64,1031.97 724.65,1031.45 726.65,1030.94 728.65,1030.43 730.65,1029.92 732.66,1029.41 734.66,1028.90 736.66,1028.39 738.66,1027.88 740.67,1027.37 742.67,1026.87 744.67,1026.36 746.68,1025.86 748.68,1025.35 750.68,1024.85 752.68,1024.34 754.68,1023.84 756.69,1023.34 758.69,1022.84 760.69,1022.34 762.69,1021.84 764.70,1021.34 766.70,1020.84 768.70,1020.35 770.70,1019.85 772.71,1019.35 774.71,1018.86 776.71,1018.36 778.71,1017.87 780.72,1017.38 782.72,1016.89 784.72,1016.40 786.73,1015.90 788.73,1015.42 790.73,1014.93 792.73,1014.44 794.74,1013.95 796.74,1013.47 798.74,1012.98 800.74,1012.50 802.75,1012.01 804.75,1011.53 806.75,1011.05 808.75,1010.56 810.75,1010.08 812.76,1009.60 814.76,1009.13 816.76,1008.65 818.76,1008.17 820.77,1007.69 822.77,1007.22 824.77,1006.74 826.77,1006.27 828.78,1005.80 830.78,1005.33 832.78,1004.85 834.78,1004.38 836.79,1003.92 838.79,1003.45 840.79,1002.98 842.79,1002.51 844.80,1002.05 846.80,1001.58 848.80,1001.12 850.80,1000.65 852.81,1000.19 854.81,999.73 856.81,999.27 858.82,998.81 860.82,998.35 862.82,997.90 864.82,997.44 866.82,996.98 868.83,996.53 870.83,996.07 872.83,995.62 874.83,995.17 876.84,994.72 878.84,994.27 880.84,993.82 882.84,993.37 884.85,992.92 886.85,992.48 888.85,992.03 890.86,991.59 892.86,991.14 894.86,990.70 896.86,990.26 898.87,989.82 900.87,989.38 902.87,988.94 904.87,988.51 906.87,988.07 908.88,987.63 910.88,987.20 912.88,986.77 914.88,986.33 916.89,985.90 918.89,985.47 920.89,985.04 922.89,984.61 924.90,984.19 926.90,983.76 928.90,983.33 930.90,982.91 932.91,982.49 934.91,982.06 936.91,981.64 938.91,981.22 940.92,980.80 942.92,980.39 944.92,979.97 946.92,979.55 948.93,979.14 950.93,978.72 952.93,978.31 954.93,977.90 956.94,977.49 958.94,977.08 960.94,976.67 962.95,976.26 964.95,975.86 966.95,975.45 968.95,975.05 970.95,974.64 972.96,974.24 974.96,973.84 976.96,973.44 978.97,973.04 980.97,972.64 982.97,972.25 984.97,971.85 986.98,971.46 988.98,971.07 990.98,970.67 992.98,970.28 994.98,969.89 996.99,969.50 998.99,969.12 1000.99,968.73 1003.00,968.34 1005.00,967.96 1007.00,967.58 1009.00,967.19 1011.00,966.81 1013.01,966.43 1015.01,966.05 1017.01,965.68 1019.01,965.30 1021.02,964.93 1023.02,964.55 1025.02,964.18 1027.02,963.81 1029.03,963.44 1031.03,963.07 1033.03,962.70 1035.03,962.33 1037.04,961.97 1039.04,961.60 1041.04,961.24 1043.04,960.87 1045.05,960.51 1047.05,960.15 1049.05,959.79 1051.05,959.44 1053.06,959.08 1055.06,958.73 1057.06,958.37 1059.06,958.02 1061.07,957.67 1063.07,957.32 1065.07,956.97 1067.07,956.62 1069.08,956.27 1071.08,955.93 1073.08,955.58 1075.09,955.24 1077.09,954.90 1079.09,954.55 1081.09,954.22 1083.10,953.88 1085.10,953.54 1087.10,953.20 1089.10,952.87 1091.11,952.54 1093.11,952.20 1095.11,951.87 1097.11,951.54 1099.11,951.21 1101.12,950.89 1103.12,950.56 1105.12,950.24 1107.12,949.91 1109.13,949.59 1111.13,949.27 1113.13,948.95 1115.14,948.63 1117.14,948.31 1119.14,948.00 1121.14,947.68 1123.14,947.37 1125.15,947.06 1127.15,946.74 1129.15,946.43 1131.15,946.13 1133.16,945.82 1135.16,945.51 1137.16,945.21 1139.16,944.90 1141.17,944.60 1143.17,944.30 1145.17,944.00 1147.17,943.70 1149.18,943.41 1151.18,943.11 1153.18,942.82 1155.18,942.52 1157.19,942.23 1159.19,941.94 1161.19,941.65 1163.20,941.36 1165.20,941.08 1167.20,940.79 1169.20,940.51 1171.20,940.23 1173.21,939.94 1175.21,939.66 1177.21,939.39 1179.21,939.11 1181.22,938.83 1183.22,938.56 1185.22,938.28 1187.22,938.01 1189.23,937.74 1191.23,937.47 1193.23,937.20 1195.23,936.94 1197.24,936.67 1199.24,936.41 1201.24,936.14 1203.24,935.88 1205.25,935.62 1207.25,935.36 1209.25,935.10 1211.26,934.85 1213.26,934.59 1215.26,934.34 1217.26,934.09 1219.26,933.84 1221.27,933.59 1223.27,933.34 1225.27,933.09 1227.28,932.85 1229.28,932.60 1231.28,932.36 1233.28,932.12 1235.28,931.88 1237.29,931.64 1239.29,931.40 1241.29,931.17 1243.29,930.93 1245.30,930.70 1247.30,930.47 1249.30,930.24 1251.30,930.01 1253.31,929.78 1255.31,929.56 1257.31,929.33 1259.32,929.11 1261.32,928.89 1263.32,928.66 1265.32,928.45 1267.32,928.23 1269.33,928.01 1271.33,927.80 1273.33,927.58 1275.33,927.37 1277.34,927.16 1279.34,926.95 1281.34,926.74 1283.35,926.53 1285.35,926.33 1287.35,926.12 1289.35,925.92 1291.36,925.72 1293.36,925.52 1295.36,925.32 1297.36,925.12 1299.37,924.93 1301.37,924.73 1303.37,924.54 1305.37,924.35 1307.37,924.16 1309.38,923.97 1311.38,923.78 1313.38,923.60 1315.38,923.41 1317.39,923.23 1319.39,923.05 1321.39,922.87 1323.39,922.69 1325.40,922.51 1327.40,922.34 1329.40,922.16 1331.40,921.99 1333.41,921.82 1335.41,921.65 1337.41,921.48 1339.41,921.31 1341.42,921.15 1343.42,920.98 1345.42,920.82 1347.42,920.66 1349.43,920.50 1351.43,920.34 1353.43,920.18 1355.43,920.03 1357.44,919.87 1359.44,919.72 1361.44,919.57 1363.44,919.42 1365.45,919.27 1367.45,919.12 1369.45,918.98 1371.45,918.83 1373.46,918.69 1375.46,918.55 1377.46,918.41 1379.46,918.27 1381.47,918.13 1383.47,918.00 1385.47,917.86 1387.47,917.73 1389.48,917.60 1391.48,917.47 1393.48,917.34 1395.48,917.21 1397.49,917.09 1399.49,916.96 1401.49,916.84 1403.49,916.72 1405.50,916.60 1407.50,916.48 1409.50,916.37 1411.50,916.25 1413.51,916.14 1415.51,916.02 1417.51,915.91 1419.52,915.80 1421.52,915.70 1423.52,915.59 1425.52,915.48 1427.53,915.38 1429.53,915.28 1431.53,915.18 1433.53,915.08 1435.53,914.98 1437.54,914.89 1439.54,914.79 1441.54,914.70 1443.55,914.61 1445.55,914.52 1447.55,914.43 1449.55,914.34 1451.55,914.25 1453.56,914.17 1455.56,914.09 1457.56,914.00 1459.56,913.92 1461.57,913.85 1463.57,913.77 1465.57,913.69 1467.58,913.62 1469.58,913.55 1471.58,913.48 1473.58,913.41 1475.58,913.34 1477.59,913.27 1479.59,913.21 1481.59,913.14 1483.59,913.08 1485.60,913.02 1487.60,912.96"/>
<polyline stroke="#77AC30" points="206.00,1132.02 208.00,1132.35 210.00,1132.68 212.01,1133.01 214.01,1133.33 216.01,1133.65 218.01,1133.97 220.02,1134.27 222.02,1134.58 224.02,1134.87 226.03,1135.17 228.03,1135.45 230.03,1135.73 232.03,1136.00 234.03,1136.27 236.04,1136.53 238.04,1136.78 240.04,1137.03 242.04,1137.26 244.05,1137.49 246.05,1137.72 248.05,1137.93 250.06,1138.13 252.06,1138.33 254.06,1138.52 256.06,1138.69 258.06,1138.86 260.07,1139.02 262.07,1139.17 264.07,1139.31 266.07,1139.44 268.08,1139.55 270.08,1139.66 272.08,1139.75 274.08,1139.84 276.09,1139.91 278.09,1139.97 280.09,1140.03 282.10,1140.06 284.10,1140.09 286.10,1140.11 288.10,1140.11 290.11,1140.10 292.11,1140.09 294.11,1140.05 296.11,1140.01 298.12,1139.96 300.12,1139.89 302.12,1139.82 304.12,1139.73 306.12,1139.63 308.13,1139.52 310.13,1139.40 312.13,1139.27 314.13,1139.13 316.14,1138.98 318.14,1138.82 320.14,1138.65 322.14,1138.46 324.15,1138.28 326.15,1138.08 328.15,1137.87 330.15,1137.65 332.16,1137.43 334.16,1137.20 336.16,1136.96 338.16,1136.71 340.17,1136.46 342.17,1136.20 344.17,1135.93 346.17,1135.65 348.18,1135.37 350.18,1135.09 352.18,1134.79 354.18,1134.49 356.19,1134.19 358.19,1133.88 360.19,1133.56 362.19,1133.24 364.20,1132.92 366.20,1132.59 368.20,1132.26 370.20,1131.92 372.21,1131.58 374.21,1131.23 376.21,1130.88 378.21,1130.53 380.22,1130.17 382.22,1129.81 384.22,1129.45 386.23,1129.08 388.23,1128.71 390.23,1128.34 392.23,1127.97 394.23,1127.59 396.24,1127.21 398.24,1126.82 400.24,1126.44 402.25,1126.05 404.25,1125.66 406.25,1125.27 408.25,1124.87 410.25,1124.48 412.26,1124.08 414.26,1123.68 416.26,1123.28 418.26,1122.88 420.27,1122.47 422.27,1122.06 424.27,1121.66 426.27,1121.25 428.28,1120.84 430.28,1120.42 432.28,1120.01 434.28,1119.59 436.29,1119.18 438.29,1118.76 440.29,1118.34 442.30,1117.92 444.30,1117.50 446.30,1117.08 448.30,1116.66 450.30,1116.24 452.31,1115.81 454.31,1115.39 456.31,1114.96 458.31,1114.54 460.32,1114.11 462.32,1113.68 464.32,1113.25 466.32,1112.82 468.33,1112.39 470.33,1111.96 472.33,1111.53 474.33,1111.10 476.34,1110.67 478.34,1110.23 480.34,1109.80 482.34,1109.37 484.35,1108.93 486.35,1108.50 488.35,1108.06 490.36,1107.63 492.36,1107.19 494.36,1106.76 496.36,1106.32 498.37,1105.88 500.37,1105.45 502.37,1105.01 504.37,1104.57 506.37,1104.13 508.38,1103.70 510.38,1103.26 512.38,1102.82 514.38,1102.38 516.39,1101.94 518.39,1101.51 520.39,1101.07 522.39,1100.63 524.40,1100.19 526.40,1099.75 528.40,1099.31 530.40,1098.87 532.41,1098.43 534.41,1097.99 536.41,1097.55 538.41,1097.11 540.42,1096.67 542.42,1096.24 544.42,1095.80 546.42,1095.36 548.43,1094.92 550.43,1094.48 552.43,1094.04 554.43,1093.60 556.44,1093.16 558.44,1092.72 560.44,1092.28 562.44,1091.84 564.45,1091.41 566.45,1090.97 568.45,1090.53 570.45,1090.09 572.46,1089.65 574.46,1089.22 576.46,1088.78 578.46,1088.34 580.47,1087.90 582.47,1087.46 584.47,1087.03 586.47,1086.59 588.48,1086.15 590.48,1085.72 592.48,1085.28 594.48,1084.85 596.49,1084.41 598.49,1083.97 600.49,1083.54 602.50,1083.10 604.50,1082.67 606.50,1082.23 608.50,1081.80 610.50,1081.37 612.51,1080.93 614.51,1080.50 616.51,1080.07 618.52,1079.63 620.52,1079.20 622.52,1078.77 624.52,1078.34 626.53,1077.90 628.53,1077.47 630.53,1077.04 632.53,1076.61 634.53,1076.18 636.54,1075.75 638.54,1075.32 640.54,1074.89 642.54,1074.46 644.55,1074.03 646.55,1073.61 648.55,1073.18 650.56,1072.75 652.56,1072.32 654.56,1071.90 656.56,1071.47 658.56,1071.05 660.57,1070.62 662.57,1070.19 664.57,1069.77 666.58,1069.35 668.58,1068.92 670.58,1068.50 672.58,1068.08 674.59,1067.65 676.59,1067.23 678.59,1066.81 680.59,1066.39 682.60,1065.97 684.60,1065.55 686.60,1065.13 688.60,1064.71 690.61,1064.29 692.61,1063.87 694.61,1063.45 696.61,1063.04 698.62,1062.62 700.62,1062.20 702.62,1061.79 704.62,1061.37 706.62,1060.96 708.63,1060.54 710.63,1060.13 712.63,1059.71 714.63,1059.30 716.64,1058.89 718.64,1058.48 720.64,1058.06 722.64,1057.65 724.65,1057.24 726.65,1056.83 728.65,1056.42 730.65,1056.02 732.66,1055.61 734.66,1055.20 736.66,1054.79 738.66,1054.39 740.67,1053.98 742.67,1053.57 744.67,1053.17 746.68,1052.77 748.68,1052.36 750.68,1051.96 752.68,1051.56 754.68,1051.15 756.69,1050.75 758.69,1050.35 760.69,1049.95 762.69,1049.55 764.70,1049.15 766.70,1048.75 768.70,1048.36 770.70,1047.96 772.71,1047.56 774.71,1047.17 776.71,1046.77 778.71,1046.38 780.72,1045.98 782.72,1045.59 784.72,1045.20 786.73,1044.80 788.73,1044.41 790.73,1044.02 792.73,1043.63 794.74,1043.24 796.74,1042.85 798.74,1042.46 800.74,1042.08 802.75,1041.69 804.75,1041.30 806.75,1040.92 808.75,1040.53 810.75,1040.15 812.76,1039.76 814.76,1039.38 816.76,1039.00 818.76,1038.62 820.77,1038.24 822.77,1037.86 824.77,1037.48 826.77,1037.10 828.78,1036.72 830.78,1036.34 832.78,1035.96 834.78,1035.59 836.79,1035.21 838.79,1034.84 840.79,1034.46 842.79,1034.09 844.80,1033.72 846.80,1033.35 848.80,1032.97 850.80,1032.60 852.81,1032.23 854.81,1031.87 856.81,1031.50 858.82,1031.13 860.82,1030.76 862.82,1030.40 864.82,1030.03 866.82,1029.67 868.83,1029.30 870.83,1028.94 872.83,1028.58 874.83,1028.22 876.84,1027.85 878.84,1027.49 880.84,1027.14 882.84,1026.78 884.85,1026.42 886.85,1026.06 888.85,1025.71 890.86,1025.35 892.86,1025.00 894.86,1024.64 896.86,1024.29 898.87,1023.94 900.87,1023.59 902.87,1023.23 904.87,1022.88 906.87,1022.54 908.88,1022.19 910.88,1021.84 912.88,1021.49 914.88,1021.15 916.89,1020.80 918.89,1020.46 920.89,1020.11 922.89,1019.77 924.90,1019.43 926.90,1019.09 928.90,1018.75 930.90,1018.41 932.91,1018.07 934.91,1017.73 936.91,1017.39 938.91,1017.06 940.92,1016.72 942.92,1016.39 944.92,1016.06 946.92,1015.72 948.93,1015.39 950.93,1015.06 952.93,1014.73 954.93,1014.40 956.94,1014.07 958.94,1013.74 960.94,1013.42 962.95,1013.09 964.95,1012.77 966.95,1012.44 968.95,1012.12 970.95,1011.80 972.96,1011.47 974.96,1011.15 976.96,1010.83 978.97,1010.51 980.97,1010.20 982.97,1009.88 984.97,1009.56 986.98,1009.25 988.98,1008.93 990.98,1008.62 992.98,1008.31 994.98,1007.99 996.99,1007.68 998.99,1007.37 1000.99,1007.06 1003.00,1006.75 1005.00,1006.45 1007.00,1006.14 1009.00,1005.84 1011.00,1005.53 1013.01,1005.23 1015.01,1004.92 1017.01,1004.62 1019.01,1004.32 1021.02,1004.02 1023.02,1003.72 1025.02,1003.42 1027.02,1003.13 1029.03,1002.83 1031.03,1002.53 1033.03,1002.24 1035.03,1001.95 1037.04,1001.65 1039.04,1001.36 1041.04,1001.07 1043.04,1000.78 1045.05,1000.49 1047.05,1000.20 1049.05,999.92 1051.05,999.63 1053.06,999.34 1055.06,999.06 1057.06,998.78 1059.06,998.49 1061.07,998.21 1063.07,997.93 1065.07,997.65 1067.07,997.37 1069.08,997.10 1071.08,996.82 1073.08,996.54 1075.09,996.27 1077.09,996.00 1079.09,995.72 1081.09,995.45 1083.10,995.18 1085.10,994.91 1087.10,994.64 1089.10,994.38 1091.11,994.11 1093.11,993.84 1095.11,993.58 1097.11,993.31 1099.11,993.05 1101.12,992.79 1103.12,992.53 1105.12,992.27 1107.12,992.01 1109.13,991.75 1111.13,991.49 1113.13,991.24 1115.14,990.98 1117.14,990.73 1119.14,990.48 1121.14,990.22 1123.14,989.97 1125.15,989.72 1127.15,989.48 1129.15,989.23 1131.15,988.98 1133.16,988.73 1135.16,988.49 1137.16,988.25 1139.16,988.00 1141.17,987.76 1143.17,987.52 1145.17,987.28 1147.17,987.04 1149.18,986.81 1151.18,986.57 1153.18,986.33 1155.18,986.10 1157.19,985.87 1159.19,985.63 1161.19,985.40 1163.20,985.17 1165.20,984.94 1167.20,984.71 1169.20,984.49 1171.20,984.26 1173.21,984.04 1175.21,983.81 1177.21,983.59 1179.21,983.37 1181.22,983.15 1183.22,982.93 1185.22,982.71 1187.22,982.49 1189.23,982.27 1191.23,982.06 1193.23,981.84 1195.23,981.63 1197.24,981.42 1199.24,981.20 1201.24,980.99 1203.24,980.79 1205.25,980.58 1207.25,980.37 1209.25,980.16 1211.26,979.96 1213.26,979.76 1215.26,979.55 1217.26,979.35 1219.26,979.15 1221.27,978.95 1223.27,978.75 1225.27,978.55 1227.28,978.36 1229.28,978.16 1231.28,977.97 1233.28,977.78 1235.28,977.58 1237.29,977.39 1239.29,977.20 1241.29,977.01 1243.29,976.83 1245.30,976.64 1247.30,976.46 1249.30,976.27 1251.30,976.09 1253.31,975.91 1255.31,975.72 1257.31,975.54 1259.32,975.37 1261.32,975.19 1263.32,975.01 1265.32,974.84 1267.32,974.66 1269.33,974.49 1271.33,974.32 1273.33,974.15 1275.33,973.98 1277.34,973.81 1279.34,973.64 1281.34,973.47 1283.35,973.31 1285.35,973.14 1287.35,972.98 1289.35,972.82 1291.36,972.66 1293.36,972.50 1295.36,972.34 1297.36,972.18 1299.37,972.02 1301.37,971.87 1303.37,971.71 1305.37,971.56 1307.37,971.41 1309.38,971.26 1311.38,971.11 1313.38,970.96 1315.38,970.81 1317.39,970.67 1319.39,970.52 1321.39,970.38 1323.39,970.23 1325.40,970.09 1327.40,969.95 1329.40,969.81 1331.40,969.67 1333.41,969.54 1335.41,969.40 1337.41,969.26 1339.41,969.13 1341.42,969.00 1343.42,968.87 1345.42,968.74 1347.42,968.61 1349.43,968.48 1351.43,968.35 1353.43,968.23 1355.43,968.10 1357.44,967.98 1359.44,967.86 1361.44,967.73 1363.44,967.61 1365.45,967.50 1367.45,967.38 1369.45,967.26 1371.45,967.15 1373.46,967.03 1375.46,966.92 1377.46,966.81 1379.46,966.70 1381.47,966.59 1383.47,966.48 1385.47,966.37 1387.47,966.26 1389.48,966.16 1391.48,966.05 1393.48,965.95 1395.48,965.85 1397.49,965.75 1399.49,965.65 1401.49,965.55 1403.49,965.46 1405.50,965.36 1407.50,965.27 1409.50,965.17 1411.50,965.08 1413.51,964.99 1415.51,964.90 1417.51,964.81 1419.52,964.72 1421.52,964.64 1423.52,964.55 1425.52,964.47 1427.53,964.39 1429.53,964.30 1431.53,964.22 1433.53,964.14 1435.53,964.07 1437.54,963.99 1439.54,963.91 1441.54,963.84 1443.55,963.76 1445.55,963.69 1447.55,963.62 1449.55,963.55 1451.55,963.48 1453.56,963.42 1455.56,963.35 1457.56,963.28 1459.56,963.22 1461.57,963.16 1463.57,963.10 1465.57,963.03 1467.58,962.98 1469.58,962.92 1471.58,962.86 1473.58,962.80 1475.58,962.75 1477.59,962.70 1479.59,962.64 1481.59,962.59 1483.59,962.54 1485.60,962.50 1487.60,962.45"/>
<polyline stroke="#4DBEEE" points="206.00,1136.75 208.00,1137.03 210.00,1137.30 212.01,1137.58 214.01,1137.85 216.01,1138.11 218.01,1138.37 220.02,1138.63 222.02,1138.88 224.02,1139.13 226.03,1139.37 228.03,1139.61 230.03,1139.84 232.03,1140.07 234.03,1140.29 236.04,1140.51 238.04,1140.72 240.04,1140.92 242.04,1141.12 244.05,1141.31 246.05,1141.50 248.05,1141.67 250.06,1141.84 252.06,1142.01 254.06,1142.16 256.06,1142.31 258.06,1142.45 260.07,1142.58 262.07,1142.71 264.07,1142.82 266.07,1142.93 268.08,1143.03 270.08,1143.12 272.08,1143.20 274.08,1143.27 276.09,1143.33 278.09,1143.38 280.09,1143.42 282.10,1143.45 284.10,1143.48 286.10,1143.49 288.10,1143.49 290.11,1143.49 292.11,1143.47 294.11,1143.45 296.11,1143.41 298.12,1143.37 300.12,1143.31 302.12,1143.25 304.12,1143.17 306.12,1143.09 308.13,1143.00 310.13,1142.90 312.13,1142.79 314.13,1142.67 316.14,1142.55 318.14,1142.41 320.14,1142.27 322.14,1142.12 324.15,1141.96 326.15,1141.80 328.15,1141.63 330.15,1141.45 332.16,1141.26 334.16,1141.07 336.16,1140.87 338.16,1140.66 340.17,1140.45 342.17,1140.23 344.17,1140.01 346.17,1139.78 348.18,1139.54 350.18,1139.30 352.18,1139.06 354.18,1138.81 356.19,1138.56 358.19,1138.30 360.19,1138.04 362.19,1137.77 364.20,1137.50 366.20,1137.23 368.20,1136.95 370.20,1136.67 372.21,1136.38 374.21,1136.09 376.21,1135.80 378.21,1135.51 380.22,1135.21 382.22,1134.91 384.22,1134.61 386.23,1134.30 388.23,1133.99 390.23,1133.68 392.23,1133.37 394.23,1133.06 396.24,1132.74 398.24,1132.42 400.24,1132.10 402.25,1131.78 404.25,1131.45 406.25,1131.12 408.25,1130.80 410.25,1130.47 412.26,1130.13 414.26,1129.80 416.26,1129.47 418.26,1129.13 420.27,1128.79 422.27,1128.45 424.27,1128.11 426.27,1127.77 428.28,1127.43 430.28,1127.09 432.28,1126.74 434.28,1126.40 436.29,1126.05 438.29,1125.70 440.29,1125.35 442.30,1125.00 444.30,1124.65 446.30,1124.30 448.30,1123.95 450.30,1123.60 452.31,1123.24 454.31,1122.89 456.31,1122.53 458.31,1122.18 460.32,1121.82 462.32,1121.47 464.32,1121.11 466.32,1120.75 468.33,1120.39 470.33,1120.03 472.33,1119.68 474.33,1119.32 476.34,1118.96 478.34,1118.59 480.34,1118.23 482.34,1117.87 484.35,1117.51 486.35,1117.15 488.35,1116.79 490.36,1116.42 492.36,1116.06 494.36,1115.70 496.36,1115.33 498.37,1114.97 500.37,1114.61 502.37,1114.24 504.37,1113.88 506.37,1113.51 508.38,1113.15 510.38,1112.78 512.38,1112.42 514.38,1112.05 516.39,1111.69 518.39,1111.32 520.39,1110.96 522.39,1110.59 524.40,1110.22 526.40,1109.86 528.40,1109.49 530.40,1109.13 532.41,1108.76 534.41,1108.39 536.41,1108.03 538.41,1107.66 540.42,1107.30 542.42,1106.93 544.42,1106.56 546.42,1106.20 548.43,1105.83 550.43,1105.47 552.43,1105.10 554.43,1104.73 556.44,1104.37 558.44,1104.00 560.44,1103.64 562.44,1103.27 564.45,1102.91 566.45,1102.54 568.45,1102.17 570.45,1101.81 572.46,1101.44 574.46,1101.08 576.46,1100.71 578.46,1100.35 580.47,1099.99 582.47,1099.62 584.47,1099.26 586.47,1098.89 588.48,1098.53 590.48,1098.16 592.48,1097.80 594.48,1097.44 596.49,1097.07 598.49,1096.71 600.49,1096.35 602.50,1095.99 604.50,1095.62 606.50,1095.26 608.50,1094.90 610.50,1094.54 612.51,1094.18 614.51,1093.82 616.51,1093.45 618.52,1093.09 620.52,1092.73 622.52,1092.37 624.52,1092.01 626.53,1091.65 628.53,1091.29 630.53,1090.93 632.53,1090.58 634.53,1090.22 636.54,1089.86 638.54,1089.50 640.54,1089.14 642.54,1088.79 644.55,1088.43 646.55,1088.07 648.55,1087.72 650.56,1087.36 652.56,1087.00 654.56,1086.65 656.56,1086.29 658.56,1085.94 660.57,1085.58 662.57,1085.23 664.57,1084.88 666.58,1084.52 668.58,1084.17 670.58,1083.82 672.58,1083.46 674.59,1083.11 676.59,1082.76 678.59,1082.41 680.59,1082.06 682.60,1081.71 684.60,1081.36 686.60,1081.01 688.60,1080.66 690.61,1080.31 692.61,1079.96 694.61,1079.61 696.61,1079.26 698.62,1078.92 700.62,1078.57 702.62,1078.22 704.62,1077.88 706.62,1077.53 708.63,1077.18 710.63,1076.84 712.63,1076.49 714.63,1076.15 716.64,1075.81 718.64,1075.46 720.64,1075.12 722.64,1074.78 724.65,1074.44 726.65,1074.09 728.65,1073.75 730.65,1073.41 732.66,1073.07 734.66,1072.73 736.66,1072.39 738.66,1072.05 740.67,1071.72 742.67,1071.38 744.67,1071.04 746.68,1070.70 748.68,1070.37 750.68,1070.03 752.68,1069.70 754.68,1069.36 756.69,1069.03 758.69,1068.69 760.69,1068.36 762.69,1068.03 764.70,1067.69 766.70,1067.36 768.70,1067.03 770.70,1066.70 772.71,1066.37 774.71,1066.04 776.71,1065.71 778.71,1065.38 780.72,1065.05 782.72,1064.72 784.72,1064.40 786.73,1064.07 788.73,1063.74 790.73,1063.42 792.73,1063.09 794.74,1062.77 796.74,1062.44 798.74,1062.12 800.74,1061.80 802.75,1061.47 804.75,1061.15 806.75,1060.83 808.75,1060.51 810.75,1060.19 812.76,1059.87 814.76,1059.55 816.76,1059.23 818.76,1058.91 820.77,1058.60 822.77,1058.28 824.77,1057.96 826.77,1057.65 828.78,1057.33 830.78,1057.02 832.78,1056.70 834.78,1056.39 836.79,1056.08 838.79,1055.76 840.79,1055.45 842.79,1055.14 844.80,1054.83 846.80,1054.52 848.80,1054.21 850.80,1053.90 852.81,1053.60 854.81,1053.29 856.81,1052.98 858.82,1052.67 860.82,1052.37 862.82,1052.06 864.82,1051.76 866.82,1051.46 868.83,1051.15 870.83,1050.85 872.83,1050.55 874.83,1050.25 876.84,1049.95 878.84,1049.65 880.84,1049.35 882.84,1049.05 884.85,1048.75 886.85,1048.45 888.85,1048.16 890.86,1047.86 892.86,1047.56 894.86,1047.27 896.86,1046.97 898.87,1046.68 900.87,1046.39 902.87,1046.10 904.87,1045.80 906.87,1045.51 908.88,1045.22 910.88,1044.93 912.88,1044.64 914.88,1044.36 916.89,1044.07 918.89,1043.78 920.89,1043.49 922.89,1043.21 924.90,1042.92 926.90,1042.64 928.90,1042.36 930.90,1042.07 932.91,1041.79 934.91,1041.51 936.91,1041.23 938.91,1040.95 940.92,1040.67 942.92,1040.39 944.92,1040.11 946.92,1039.84 948.93,1039.56 950.93,1039.28 952.93,1039.01 954.93,1038.73 956.94,1038.46 958.94,1038.19 960.94,1037.91 962.95,1037.64 964.95,1037.37 966.95,1037.10 968.95,1036.83 970.95,1036.56 972.96,1036.29 974.96,1036.03 976.96,1035.76 978.97,1035.50 980.97,1035.23 982.97,1034.97 984.97,1034.70 986.98,1034.44 988.98,1034.18 990.98,1033.92 992.98,1033.65 994.98,1033.39 996.99,1033.14 998.99,1032.88 1000.99,1032.62 1003.00,1032.36 1005.00,1032.11 1007.00,1031.85 1009.00,1031.60 1011.00,1031.34 1013.01,1031.09 1015.01,1030.84 1017.01,1030.58 1019.01,1030.33 1021.02,1030.08 1023.02,1029.83 1025.02,1029.59 1027.02,1029.34 1029.03,1029.09 1031.03,1028.84 1033.03,1028.60 1035.03,1028.35 1037.04,1028.11 1039.04,1027.87 1041.04,1027.62 1043.04,1027.38 1045.05,1027.14 1047.05,1026.90 1049.05,1026.66 1051.05,1026.42 1053.06,1026.19 1055.06,1025.95 1057.06,1025.71 1059.06,1025.48 1061.07,1025.24 1063.07,1025.01 1065.07,1024.78 1067.07,1024.55 1069.08,1024.31 1071.08,1024.08 1073.08,1023.85 1075.09,1023.63 1077.09,1023.40 1079.09,1023.17 1081.09,1022.94 1083.10,1022.72 1085.10,1022.49 1087.10,1022.27 1089.10,1022.05 1091.11,1021.82 1093.11,1021.60 1095.11,1021.38 1097.11,1021.16 1099.11,1020.94 1101.12,1020.72 1103.12,1020.51 1105.12,1020.29 1107.12,1020.07 1109.13,1019.86 1111.13,1019.65 1113.13,1019.43 1115.14,1019.22 1117.14,1019.01 1119.14,1018.80 1121.14,1018.59 1123.14,1018.38 1125.15,1018.17 1127.15,1017.96 1129.15,1017.76 1131.15,1017.55 1133.16,1017.35 1135.16,1017.14 1137.16,1016.94 1139.16,1016.74 1141.17,1016.54 1143.17,1016.33 1145.17,1016.13 1147.17,1015.94 1149.18,1015.74 1151.18,1015.54 1153.18,1015.34 1155.18,1015.15 1157.19,1014.95 1159.19,1014.76 1161.19,1014.57 1163.20,1014.38 1165.20,1014.18 1167.20,1013.99 1169.20,1013.81 1171.20,1013.62 1173.21,1013.43 1175.21,1013.24 1177.21,1013.06 1179.21,1012.87 1181.22,1012.69 1183.22,1012.50 1185.22,1012.32 1187.22,1012.14 1189.23,1011.96 1191.23,1011.78 1193.23,1011.60 1195.23,1011.42 1197.24,1011.25 1199.24,1011.07 1201.24,1010.90 1203.24,1010.72 1205.25,1010.55 1207.25,1010.37 1209.25,1010.20 1211.26,1010.03 1213.26,1009.86 1215.26,1009.69 1217.26,1009.53 1219.26,1009.36 1221.27,1009.19 1223.27,1009.03 1225.27,1008.86 1227.28,1008.70 1229.28,1008.54 1231.28,1008.37 1233.28,1008.21 1235.28,1008.05 1237.29,1007.89 1239.29,1007.74 1241.29,1007.58 1243.29,1007.42 1245.30,1007.27 1247.30,1007.11 1249.30,1006.96 1251.30,1006.81 1253.31,1006.65 1255.31,1006.50 1257.31,1006.35 1259.32,1006.20 1261.32,1006.06 1263.32,1005.91 1265.32,1005.76 1267.32,1005.62 1269.33,1005.47 1271.33,1005.33 1273.33,1005.19 1275.33,1005.05 1277.34,1004.91 1279.34,1004.77 1281.34,1004.63 1283.35,1004.49 1285.35,1004.35 1287.35,1004.22 1289.35,1004.08 1291.36,1003.95 1293.36,1003.81 1295.36,1003.68 1297.36,1003.55 1299.37,1003.42 1301.37,1003.29 1303.37,1003.16 1305.37,1003.03 1307.37,1002.91 1309.38,1002.78 1311.38,1002.66 1313.38,1002.53 1315.38,1002.41 1317.39,1002.29 1319.39,1002.17 1321.39,1002.05 1323.39,1001.93 1325.40,1001.81 1327.40,1001.69 1329.40,1001.58 1331.40,1001.46 1333.41,1001.35 1335.41,1001.23 1337.41,1001.12 1339.41,1001.01 1341.42,1000.90 1343.42,1000.79 1345.42,1000.68 1347.42,1000.57 1349.43,1000.47 1351.43,1000.36 1353.43,1000.26 1355.43,1000.15 1357.44,1000.05 1359.44,999.95 1361.44,999.85 1363.44,999.75 1365.45,999.65 1367.45,999.55 1369.45,999.45 1371.45,999.35 1373.46,999.26 1375.46,999.17 1377.46,999.07 1379.46,998.98 1381.47,998.89 1383.47,998.80 1385.47,998.71 1387.47,998.62 1389.48,998.53 1391.48,998.45 1393.48,998.36 1395.48,998.28 1397.49,998.19 1399.49,998.11 1401.49,998.03 1403.49,997.95 1405.50,997.87 1407.50,997.79 1409.50,997.71 1411.50,997.63 1413.51,997.56 1415.51,997.48 1417.51,997.41 1419.52,997.34 1421.52,997.26 1423.52,997.19 1425.52,997.12 1427.53,997.05 1429.53,996.99 1431.53,996.92 1433.53,996.85 1435.53,996.79 1437.54,996.72 1439.54,996.66 1441.54,996.60 1443.55,996.54 1445.55,996.48 1447.55,996.42 1449.55,996.36 1451.55,996.30 1453.56,996.25 1455.56,996.19 1457.56,996.14 1459.56,996.08 1461.57,996.03 1463.57,995.98 1465.57,995.93 1467.58,995.88 1469.58,995.83 1471.58,995.78 1473.58,995.74 1475.58,995.69 1477.59,995.65 1479.59,995.60 1481.59,995.56 1483.59,995.52 1485.60,995.48 1487.60,995.44"/>
<polyline stroke="#A2142F" points="206.00,1140.12 208.00,1140.37 210.00,1140.60 212.01,1140.84 214.01,1141.07 216.01,1141.30 218.01,1141.52 220.02,1141.74 222.02,1141.96 224.02,1142.17 226.03,1142.38 228.03,1142.58 230.03,1142.78 232.03,1142.97 234.03,1143.16 236.04,1143.35 238.04,1143.53 240.04,1143.71 242.04,1143.87 244.05,1144.04 246.05,1144.20 248.05,1144.35 250.06,1144.50 252.06,1144.64 254.06,1144.77 256.06,1144.90 258.06,1145.02 260.07,1145.13 262.07,1145.23 264.07,1145.33 266.07,1145.43 268.08,1145.51 270.08,1145.58 272.08,1145.65 274.08,1145.71 276.09,1145.77 278.09,1145.81 280.09,1145.85 282.10,1145.87 284.10,1145.89 286.10,1145.91 288.10,1145.91 290.11,1145.90 292.11,1145.89 294.11,1145.87 296.11,1145.84 298.12,1145.80 300.12,1145.75 302.12,1145.70 304.12,1145.63 306.12,1145.56 308.13,1145.49 310.13,1145.40 312.13,1145.31 314.13,1145.21 316.14,1145.10 318.14,1144.98 320.14,1144.86 322.14,1144.73 324.15,1144.60 326.15,1144.46 328.15,1144.31 330.15,1144.15 332.16,1143.99 334.16,1143.83 336.16,1143.66 338.16,1143.48 340.17,1143.30 342.17,1143.11 344.17,1142.92 346.17,1142.72 348.18,1142.52 350.18,1142.32 352.18,1142.11 354.18,1141.90 356.19,1141.68 358.19,1141.46 360.19,1141.23 362.19,1141.00 364.20,1140.77 366.20,1140.54 368.20,1140.30 370.20,1140.06 372.21,1139.81 374.21,1139.57 376.21,1139.32 378.21,1139.06 380.22,1138.81 382.22,1138.55 384.22,1138.29 386.23,1138.03 388.23,1137.77 390.23,1137.50 392.23,1137.23 394.23,1136.96 396.24,1136.69 398.24,1136.42 400.24,1136.14 402.25,1135.86 404.25,1135.59 406.25,1135.31 408.25,1135.02 410.25,1134.74 412.26,1134.46 414.26,1134.17 416.26,1133.89 418.26,1133.60 420.27,1133.31 422.27,1133.02 424.27,1132.73 426.27,1132.43 428.28,1132.14 430.28,1131.85 432.28,1131.55 434.28,1131.25 436.29,1130.96 438.29,1130.66 440.29,1130.36 442.30,1130.06 444.30,1129.76 446.30,1129.46 448.30,1129.16 450.30,1128.85 452.31,1128.55 454.31,1128.25 456.31,1127.94 458.31,1127.64 460.32,1127.33 462.32,1127.03 464.32,1126.72 466.32,1126.42 468.33,1126.11 470.33,1125.80 472.33,1125.49 474.33,1125.18 476.34,1124.88 478.34,1124.57 480.34,1124.26 482.34,1123.95 484.35,1123.64 486.35,1123.33 488.35,1123.02 490.36,1122.71 492.36,1122.39 494.36,1122.08 496.36,1121.77 498.37,1121.46 500.37,1121.15 502.37,1120.84 504.37,1120.52 506.37,1120.21 508.38,1119.90 510.38,1119.58 512.38,1119.27 514.38,1118.96 516.39,1118.65 518.39,1118.33 520.39,1118.02 522.39,1117.71 524.40,1117.39 526.40,1117.08 528.40,1116.76 530.40,1116.45 532.41,1116.14 534.41,1115.82 536.41,1115.51 538.41,1115.20 540.42,1114.88 542.42,1114.57 544.42,1114.25 546.42,1113.94 548.43,1113.63 550.43,1113.31 552.43,1113.00 554.43,1112.69 556.44,1112.37 558.44,1112.06 560.44,1111.75 562.44,1111.43 564.45,1111.12 566.45,1110.81 568.45,1110.49 570.45,1110.18 572.46,1109.87 574.46,1109.55 576.46,1109.24 578.46,1108.93 580.47,1108.62 582.47,1108.30 584.47,1107.99 586.47,1107.68 588.48,1107.37 590.48,1107.06 592.48,1106.74 594.48,1106.43 596.49,1106.12 598.49,1105.81 600.49,1105.50 602.50,1105.19 604.50,1104.88 606.50,1104.57 608.50,1104.26 610.50,1103.95 612.51,1103.64 614.51,1103.33 616.51,1103.02 618.52,1102.71 620.52,1102.40 622.52,1102.09 624.52,1101.78 626.53,1101.47 628.53,1101.17 630.53,1100.86 632.53,1100.55 634.53,1100.24 636.54,1099.94 638.54,1099.63 640.54,1099.32 642.54,1099.02 644.55,1098.71 646.55,1098.40 648.55,1098.10 650.56,1097.79 652.56,1097.49 654.56,1097.18 656.56,1096.88 658.56,1096.58 660.57,1096.27 662.57,1095.97 664.57,1095.66 666.58,1095.36 668.58,1095.06 670.58,1094.76 672.58,1094.45 674.59,1094.15 676.59,1093.85 678.59,1093.55 680.59,1093.25 682.60,1092.95 684.60,1092.65 686.60,1092.35 688.60,1092.05 690.61,1091.75 692.61,1091.45 694.61,1091.15 696.61,1090.85 698.62,1090.56 700.62,1090.26 702.62,1089.96 704.62,1089.66 706.62,1089.37 708.63,1089.07 710.63,1088.78 712.63,1088.48 714.63,1088.19 716.64,1087.89 718.64,1087.60 720.64,1087.30 722.64,1087.01 724.65,1086.72 726.65,1086.42 728.65,1086.13 730.65,1085.84 732.66,1085.55 734.66,1085.26 736.66,1084.97 738.66,1084.68 740.67,1084.39 742.67,1084.10 744.67,1083.81 746.68,1083.52 748.68,1083.23 750.68,1082.94 752.68,1082.65 754.68,1082.37 756.69,1082.08 758.69,1081.79 760.69,1081.51 762.69,1081.22 764.70,1080.94 766.70,1080.65 768.70,1080.37 770.70,1080.09 772.71,1079.80 774.71,1079.52 776.71,1079.24 778.71,1078.95 780.72,1078.67 782.72,1078.39 784.72,1078.11 786.73,1077.83 788.73,1077.55 790.73,1077.27 792.73,1076.99 794.74,1076.72 796.74,1076.44 798.74,1076.16 800.74,1075.88 802.75,1075.61 804.75,1075.33 806.75,1075.05 808.75,1074.78 810.75,1074.51 812.76,1074.23 814.76,1073.96 816.76,1073.68 818.76,1073.41 820.77,1073.14 822.77,1072.87 824.77,1072.60 826.77,1072.33 828.78,1072.06 830.78,1071.79 832.78,1071.52 834.78,1071.25 836.79,1070.98 838.79,1070.71 840.79,1070.45 842.79,1070.18 844.80,1069.91 846.80,1069.65 848.80,1069.38 850.80,1069.12 852.81,1068.85 854.81,1068.59 856.81,1068.33 858.82,1068.06 860.82,1067.80 862.82,1067.54 864.82,1067.28 866.82,1067.02 868.83,1066.76 870.83,1066.50 872.83,1066.24 874.83,1065.98 876.84,1065.72 878.84,1065.47 880.84,1065.21 882.84,1064.95 884.85,1064.70 886.85,1064.44 888.85,1064.19 890.86,1063.94 892.86,1063.68 894.86,1063.43 896.86,1063.18 898.87,1062.93 900.87,1062.68 902.87,1062.42 904.87,1062.17 906.87,1061.93 908.88,1061.68 910.88,1061.43 912.88,1061.18 914.88,1060.93 916.89,1060.69 918.89,1060.44 920.89,1060.20 922.89,1059.95 924.90,1059.71 926.90,1059.46 928.90,1059.22 930.90,1058.98 932.91,1058.74 934.91,1058.49 936.91,1058.25 938.91,1058.01 940.92,1057.77 942.92,1057.53 944.92,1057.30 946.92,1057.06 948.93,1056.82 950.93,1056.59 952.93,1056.35 954.93,1056.11 956.94,1055.88 958.94,1055.65 960.94,1055.41 962.95,1055.18 964.95,1054.95 966.95,1054.72 968.95,1054.48 970.95,1054.25 972.96,1054.02 974.96,1053.79 976.96,1053.57 978.97,1053.34 980.97,1053.11 982.97,1052.88 984.97,1052.66 986.98,1052.43 988.98,1052.21 990.98,1051.98 992.98,1051.76 994.98,1051.54 996.99,1051.32 998.99,1051.09 1000.99,1050.87 1003.00,1050.65 1005.00,1050.43 1007.00,1050.21 1009.00,1050.00 1011.00,1049.78 1013.01,1049.56 1015.01,1049.35 1017.01,1049.13 1019.01,1048.91 1021.02,1048.70 1023.02,1048.49 1025.02,1048.27 1027.02,1048.06 1029.03,1047.85 1031.03,1047.64 1033.03,1047.43 1035.03,1047.22 1037.04,1047.01 1039.04,1046.80 1041.04,1046.59 1043.04,1046.39 1045.05,1046.18 1047.05,1045.97 1049.05,1045.77 1051.05,1045.56 1053.06,1045.36 1055.06,1045.16 1057.06,1044.95 1059.06,1044.75 1061.07,1044.55 1063.07,1044.35 1065.07,1044.15 1067.07,1043.95 1069.08,1043.76 1071.08,1043.56 1073.08,1043.36 1075.09,1043.16 1077.09,1042.97 1079.09,1042.77 1081.09,1042.58 1083.10,1042.39 1085.10,1042.19 1087.10,1042.00 1089.10,1041.81 1091.11,1041.62 1093.11,1041.43 1095.11,1041.24 1097.11,1041.05 1099.11,1040.86 1101.12,1040.68 1103.12,1040.49 1105.12,1040.31 1107.12,1040.12 1109.13,1039.94 1111.13,1039.75 1113.13,1039.57 1115.14,1039.39 1117.14,1039.21 1119.14,1039.03 1121.14,1038.85 1123.14,1038.67 1125.15,1038.49 1127.15,1038.31 1129.15,1038.13 1131.15,1037.96 1133.16,1037.78 1135.16,1037.61 1137.16,1037.43 1139.16,1037.26 1141.17,1037.09 1143.17,1036.92 1145.17,1036.74 1147.17,1036.57 1149.18,1036.40 1151.18,1036.23 1153.18,1036.07 1155.18,1035.90 1157.19,1035.73 1159.19,1035.57 1161.19,1035.40 1163.20,1035.24 1165.20,1035.07 1167.20,1034.91 1169.20,1034.75 1171.20,1034.59 1173.21,1034.43 1175.21,1034.27 1177.21,1034.11 1179.21,1033.95 1181.22,1033.79 1183.22,1033.63 1185.22,1033.48 1187.22,1033.32 1189.23,1033.17 1191.23,1033.01 1193.23,1032.86 1195.23,1032.71 1197.24,1032.55 1199.24,1032.40 1201.24,1032.25 1203.24,1032.10 1205.25,1031.96 1207.25,1031.81 1209.25,1031.66 1211.26,1031.51 1213.26,1031.37 1215.26,1031.22 1217.26,1031.08 1219.26,1030.94 1221.27,1030.79 1223.27,1030.65 1225.27,1030.51 1227.28,1030.37 1229.28,1030.23 1231.28,1030.09 1233.28,1029.95 1235.28,1029.82 1237.29,1029.68 1239.29,1029.55 1241.29,1029.41 1243.29,1029.28 1245.30,1029.14 1247.30,1029.01 1249.30,1028.88 1251.30,1028.75 1253.31,1028.62 1255.31,1028.49 1257.31,1028.36 1259.32,1028.23 1261.32,1028.11 1263.32,1027.98 1265.32,1027.85 1267.32,1027.73 1269.33,1027.61 1271.33,1027.48 1273.33,1027.36 1275.33,1027.24 1277.34,1027.12 1279.34,1027.00 1281.34,1026.88 1283.35,1026.76 1285.35,1026.64 1287.35,1026.53 1289.35,1026.41 1291.36,1026.30 1293.36,1026.18 1295.36,1026.07 1297.36,1025.96 1299.37,1025.85 1301.37,1025.73 1303.37,1025.62 1305.37,1025.51 1307.37,1025.41 1309.38,1025.30 1311.38,1025.19 1313.38,1025.09 1315.38,1024.98 1317.39,1024.88 1319.39,1024.77 1321.39,1024.67 1323.39,1024.57 1325.40,1024.47 1327.40,1024.36 1329.40,1024.27 1331.40,1024.17 1333.41,1024.07 1335.41,1023.97 1337.41,1023.87 1339.41,1023.78 1341.42,1023.68 1343.42,1023.59 1345.42,1023.50 1347.42,1023.40 1349.43,1023.31 1351.43,1023.22 1353.43,1023.13 1355.43,1023.04 1357.44,1022.96 1359.44,1022.87 1361.44,1022.78 1363.44,1022.70 1365.45,1022.61 1367.45,1022.53 1369.45,1022.44 1371.45,1022.36 1373.46,1022.28 1375.46,1022.20 1377.46,1022.12 1379.46,1022.04 1381.47,1021.96 1383.47,1021.88 1385.47,1021.81 1387.47,1021.73 1389.48,1021.66 1391.48,1021.58 1393.48,1021.51 1395.48,1021.44 1397.49,1021.36 1399.49,1021.29 1401.49,1021.22 1403.49,1021.15 1405.50,1021.09 1407.50,1021.02 1409.50,1020.95 1411.50,1020.89 1413.51,1020.82 1415.51,1020.76 1417.51,1020.69 1419.52,1020.63 1421.52,1020.57 1423.52,1020.51 1425.52,1020.45 1427.53,1020.39 1429.53,1020.33 1431.53,1020.27 1433.53,1020.22 1435.53,1020.16 1437.54,1020.11 1439.54,1020.05 1441.54,1020.00 1443.55,1019.95 1445.55,1019.89 1447.55,1019.84 1449.55,1019.79 1451.55,1019.74 1453.56,1019.70 1455.56,1019.65 1457.56,1019.60 1459.56,1019.56 1461.57,1019.51 1463.57,1019.47 1465.57,1019.42 1467.58,1019.38 1469.58,1019.34 1471.58,1019.30 1473.58,1019.26 1475.58,1019.22 1477.59,1019.18 1479.59,1019.15 1481.59,1019.11 1483.59,1019.07 1485.60,1019.04 1487.60,1019.01"/>
<polyline stroke="#0072BD" points="206.00,1142.66 208.00,1142.87 210.00,1143.08 212.01,1143.28 214.01,1143.48 216.01,1143.68 218.01,1143.88 220.02,1144.07 222.02,1144.26 224.02,1144.45 226.03,1144.63 228.03,1144.81 230.03,1144.98 232.03,1145.15 234.03,1145.32 236.04,1145.48 238.04,1145.64 240.04,1145.79 242.04,1145.94 244.05,1146.08 246.05,1146.22 248.05,1146.36 250.06,1146.48 252.06,1146.61 254.06,1146.72 256.06,1146.83 258.06,1146.94 260.07,1147.04 262.07,1147.13 264.07,1147.22 266.07,1147.30 268.08,1147.37 270.08,1147.44 272.08,1147.50 274.08,1147.55 276.09,1147.60 278.09,1147.63 280.09,1147.67 282.10,1147.69 284.10,1147.71 286.10,1147.72 288.10,1147.72 290.11,1147.72 292.11,1147.70 294.11,1147.68 296.11,1147.66 298.12,1147.62 300.12,1147.58 302.12,1147.54 304.12,1147.48 306.12,1147.42 308.13,1147.35 310.13,1147.28 312.13,1147.19 314.13,1147.11 316.14,1147.01 318.14,1146.91 320.14,1146.80 322.14,1146.69 324.15,1146.57 326.15,1146.45 328.15,1146.32 330.15,1146.18 332.16,1146.04 334.16,1145.90 336.16,1145.75 338.16,1145.60 340.17,1145.44 342.17,1145.27 344.17,1145.11 346.17,1144.93 348.18,1144.76 350.18,1144.58 352.18,1144.40 354.18,1144.21 356.19,1144.02 358.19,1143.82 360.19,1143.63 362.19,1143.43 364.20,1143.23 366.20,1143.02 368.20,1142.81 370.20,1142.60 372.21,1142.39 374.21,1142.17 376.21,1141.95 378.21,1141.73 380.22,1141.51 382.22,1141.28 384.22,1141.06 386.23,1140.83 388.23,1140.60 390.23,1140.36 392.23,1140.13 394.23,1139.89 396.24,1139.65 398.24,1139.42 400.24,1139.17 402.25,1138.93 404.25,1138.69 406.25,1138.44 408.25,1138.20 410.25,1137.95 412.26,1137.70 414.26,1137.45 416.26,1137.20 418.26,1136.95 420.27,1136.69 422.27,1136.44 424.27,1136.19 426.27,1135.93 428.28,1135.67 430.28,1135.41 432.28,1135.16 434.28,1134.90 436.29,1134.64 438.29,1134.38 440.29,1134.11 442.30,1133.85 444.30,1133.59 446.30,1133.33 448.30,1133.06 450.30,1132.80 452.31,1132.53 454.31,1132.27 456.31,1132.00 458.31,1131.73 460.32,1131.47 462.32,1131.20 464.32,1130.93 466.32,1130.66 468.33,1130.39 470.33,1130.13 472.33,1129.86 474.33,1129.59 476.34,1129.32 478.34,1129.05 480.34,1128.78 482.34,1128.50 484.35,1128.23 486.35,1127.96 488.35,1127.69 490.36,1127.42 492.36,1127.15 494.36,1126.87 496.36,1126.60 498.37,1126.33 500.37,1126.05 502.37,1125.78 504.37,1125.51 506.37,1125.23 508.38,1124.96 510.38,1124.69 512.38,1124.41 514.38,1124.14 516.39,1123.86 518.39,1123.59 520.39,1123.32 522.39,1123.04 524.40,1122.77 526.40,1122.49 528.40,1122.22 530.40,1121.94 532.41,1121.67 534.41,1121.40 536.41,1121.12 538.41,1120.85 540.42,1120.57 542.42,1120.30 544.42,1120.02 546.42,1119.75 548.43,1119.47 550.43,1119.20 552.43,1118.92 554.43,1118.65 556.44,1118.38 558.44,1118.10 560.44,1117.83 562.44,1117.55 564.45,1117.28 566.45,1117.00 568.45,1116.73 570.45,1116.46 572.46,1116.18 574.46,1115.91 576.46,1115.64 578.46,1115.36 580.47,1115.09 582.47,1114.82 584.47,1114.54 586.47,1114.27 588.48,1114.00 590.48,1113.72 592.48,1113.45 594.48,1113.18 596.49,1112.91 598.49,1112.63 600.49,1112.36 602.50,1112.09 604.50,1111.82 606.50,1111.55 608.50,1111.27 610.50,1111.00 612.51,1110.73 614.51,1110.46 616.51,1110.19 618.52,1109.92 620.52,1109.65 622.52,1109.38 624.52,1109.11 626.53,1108.84 628.53,1108.57 630.53,1108.30 632.53,1108.03 634.53,1107.76 636.54,1107.49 638.54,1107.23 640.54,1106.96 642.54,1106.69 644.55,1106.42 646.55,1106.15 648.55,1105.89 650.56,1105.62 652.56,1105.35 654.56,1105.09 656.56,1104.82 658.56,1104.55 660.57,1104.29 662.57,1104.02 664.57,1103.76 666.58,1103.49 668.58,1103.23 670.58,1102.96 672.58,1102.70 674.59,1102.43 676.59,1102.17 678.59,1101.91 680.59,1101.64 682.60,1101.38 684.60,1101.12 686.60,1100.85 688.60,1100.59 690.61,1100.33 692.61,1100.07 694.61,1099.81 696.61,1099.55 698.62,1099.29 700.62,1099.03 702.62,1098.77 704.62,1098.51 706.62,1098.25 708.63,1097.99 710.63,1097.73 712.63,1097.47 714.63,1097.21 716.64,1096.95 718.64,1096.70 720.64,1096.44 722.64,1096.18 724.65,1095.93 726.65,1095.67 728.65,1095.42 730.65,1095.16 732.66,1094.90 734.66,1094.65 736.66,1094.40 738.66,1094.14 740.67,1093.89 742.67,1093.63 744.67,1093.38 746.68,1093.13 748.68,1092.88 750.68,1092.62 752.68,1092.37 754.68,1092.12 756.69,1091.87 758.69,1091.62 760.69,1091.37 762.69,1091.12 764.70,1090.87 766.70,1090.62 768.70,1090.37 770.70,1090.12 772.71,1089.88 774.71,1089.63 776.71,1089.38 778.71,1089.14 780.72,1088.89 782.72,1088.64 784.72,1088.40 786.73,1088.15 788.73,1087.91 790.73,1087.66 792.73,1087.42 794.74,1087.18 796.74,1086.93 798.74,1086.69 800.74,1086.45 802.75,1086.21 804.75,1085.96 806.75,1085.72 808.75,1085.48 810.75,1085.24 812.76,1085.00 814.76,1084.76 816.76,1084.52 818.76,1084.29 820.77,1084.05 822.77,1083.81 824.77,1083.57 826.77,1083.34 828.78,1083.10 830.78,1082.86 832.78,1082.63 834.78,1082.39 836.79,1082.16 838.79,1081.92 840.79,1081.69 842.79,1081.46 844.80,1081.22 846.80,1080.99 848.80,1080.76 850.80,1080.53 852.81,1080.30 854.81,1080.07 856.81,1079.84 858.82,1079.61 860.82,1079.38 862.82,1079.15 864.82,1078.92 866.82,1078.69 868.83,1078.46 870.83,1078.24 872.83,1078.01 874.83,1077.78 876.84,1077.56 878.84,1077.33 880.84,1077.11 882.84,1076.89 884.85,1076.66 886.85,1076.44 888.85,1076.22 890.86,1075.99 892.86,1075.77 894.86,1075.55 896.86,1075.33 898.87,1075.11 900.87,1074.89 902.87,1074.67 904.87,1074.45 906.87,1074.23 908.88,1074.02 910.88,1073.80 912.88,1073.58 914.88,1073.37 916.89,1073.15 918.89,1072.94 920.89,1072.72 922.89,1072.51 924.90,1072.29 926.90,1072.08 928.90,1071.87 930.90,1071.66 932.91,1071.44 934.91,1071.23 936.91,1071.02 938.91,1070.81 940.92,1070.60 942.92,1070.39 944.92,1070.18 946.92,1069.98 948.93,1069.77 950.93,1069.56 952.93,1069.36 954.93,1069.15 956.94,1068.94 958.94,1068.74 960.94,1068.54 962.95,1068.33 964.95,1068.13 966.95,1067.93 968.95,1067.72 970.95,1067.52 972.96,1067.32 974.96,1067.12 976.96,1066.92 978.97,1066.72 980.97,1066.52 982.97,1066.32 984.97,1066.13 986.98,1065.93 988.98,1065.73 990.98,1065.54 992.98,1065.34 994.98,1065.15 996.99,1064.95 998.99,1064.76 1000.99,1064.56 1003.00,1064.37 1005.00,1064.18 1007.00,1063.99 1009.00,1063.80 1011.00,1063.61 1013.01,1063.42 1015.01,1063.23 1017.01,1063.04 1019.01,1062.85 1021.02,1062.66 1023.02,1062.48 1025.02,1062.29 1027.02,1062.10 1029.03,1061.92 1031.03,1061.73 1033.03,1061.55 1035.03,1061.37 1037.04,1061.18 1039.04,1061.00 1041.04,1060.82 1043.04,1060.64 1045.05,1060.46 1047.05,1060.28 1049.05,1060.10 1051.05,1059.92 1053.06,1059.74 1055.06,1059.56 1057.06,1059.39 1059.06,1059.21 1061.07,1059.03 1063.07,1058.86 1065.07,1058.68 1067.07,1058.51 1069.08,1058.34 1071.08,1058.16 1073.08,1057.99 1075.09,1057.82 1077.09,1057.65 1079.09,1057.48 1081.09,1057.31 1083.10,1057.14 1085.10,1056.97 1087.10,1056.80 1089.10,1056.63 1091.11,1056.47 1093.11,1056.30 1095.11,1056.14 1097.11,1055.97 1099.11,1055.81 1101.12,1055.64 1103.12,1055.48 1105.12,1055.32 1107.12,1055.16 1109.13,1054.99 1111.13,1054.83 1113.13,1054.67 1115.14,1054.51 1117.14,1054.36 1119.14,1054.20 1121.14,1054.04 1123.14,1053.88 1125.15,1053.73 1127.15,1053.57 1129.15,1053.42 1131.15,1053.26 1133.16,1053.11 1135.16,1052.96 1137.16,1052.80 1139.16,1052.65 1141.17,1052.50 1143.17,1052.35 1145.17,1052.20 1147.17,1052.05 1149.18,1051.90 1151.18,1051.76 1153.18,1051.61 1155.18,1051.46 1157.19,1051.32 1159.19,1051.17 1161.19,1051.03 1163.20,1050.88 1165.20,1050.74 1167.20,1050.60 1169.20,1050.45 1171.20,1050.31 1173.21,1050.17 1175.21,1050.03 1177.21,1049.89 1179.21,1049.75 1181.22,1049.62 1183.22,1049.48 1185.22,1049.34 1187.22,1049.21 1189.23,1049.07 1191.23,1048.94 1193.23,1048.80 1195.23,1048.67 1197.24,1048.54 1199.24,1048.40 1201.24,1048.27 1203.24,1048.14 1205.25,1048.01 1207.25,1047.88 1209.25,1047.75 1211.26,1047.62 1213.26,1047.50 1215.26,1047.37 1217.26,1047.24 1219.26,1047.12 1221.27,1046.99 1223.27,1046.87 1225.27,1046.75 1227.28,1046.62 1229.28,1046.50 1231.28,1046.38 1233.28,1046.26 1235.28,1046.14 1237.29,1046.02 1239.29,1045.90 1241.29,1045.78 1243.29,1045.67 1245.30,1045.55 1247.30,1045.43 1249.30,1045.32 1251.30,1045.20 1253.31,1045.09 1255.31,1044.98 1257.31,1044.87 1259.32,1044.75 1261.32,1044.64 1263.32,1044.53 1265.32,1044.42 1267.32,1044.31 1269.33,1044.21 1271.33,1044.10 1273.33,1043.99 1275.33,1043.88 1277.34,1043.78 1279.34,1043.67 1281.34,1043.57 1283.35,1043.47 1285.35,1043.36 1287.35,1043.26 1289.35,1043.16 1291.36,1043.06 1293.36,1042.96 1295.36,1042.86 1297.36,1042.76 1299.37,1042.66 1301.37,1042.57 1303.37,1042.47 1305.37,1042.38 1307.37,1042.28 1309.38,1042.19 1311.38,1042.09 1313.38,1042.00 1315.38,1041.91 1317.39,1041.82 1319.39,1041.73 1321.39,1041.64 1323.39,1041.55 1325.40,1041.46 1327.40,1041.37 1329.40,1041.28 1331.40,1041.20 1333.41,1041.11 1335.41,1041.02 1337.41,1040.94 1339.41,1040.86 1341.42,1040.77 1343.42,1040.69 1345.42,1040.61 1347.42,1040.53 1349.43,1040.45 1351.43,1040.37 1353.43,1040.29 1355.43,1040.21 1357.44,1040.14 1359.44,1040.06 1361.44,1039.98 1363.44,1039.91 1365.45,1039.83 1367.45,1039.76 1369.45,1039.69 1371.45,1039.62 1373.46,1039.54 1375.46,1039.47 1377.46,1039.40 1379.46,1039.33 1381.47,1039.27 1383.47,1039.20 1385.47,1039.13 1387.47,1039.06 1389.48,1039.00 1391.48,1038.93 1393.48,1038.87 1395.48,1038.81 1397.49,1038.74 1399.49,1038.68 1401.49,1038.62 1403.49,1038.56 1405.50,1038.50 1407.50,1038.44 1409.50,1038.38 1411.50,1038.33 1413.51,1038.27 1415.51,1038.21 1417.51,1038.16 1419.52,1038.10 1421.52,1038.05 1423.52,1037.99 1425.52,1037.94 1427.53,1037.89 1429.53,1037.84 1431.53,1037.79 1433.53,1037.74 1435.53,1037.69 1437.54,1037.64 1439.54,1037.60 1441.54,1037.55 1443.55,1037.50 1445.55,1037.46 1447.55,1037.41 1449.55,1037.37 1451.55,1037.33 1453.56,1037.28 1455.56,1037.24 1457.56,1037.20 1459.56,1037.16 1461.57,1037.12 1463.57,1037.08 1465.57,1037.05 1467.58,1037.01 1469.58,1036.97 1471.58,1036.94 1473.58,1036.90 1475.58,1036.87 1477.59,1036.84 1479.59,1036.80 1481.59,1036.77 1483.59,1036.74 1485.60,1036.71 1487.60,1036.68"/>
<polyline stroke="#D95319" points="206.00,1144.63 208.00,1144.82 210.00,1145.00 212.01,1145.18 214.01,1145.36 216.01,1145.54 218.01,1145.71 220.02,1145.89 222.02,1146.05 224.02,1146.22 226.03,1146.38 228.03,1146.54 230.03,1146.70 232.03,1146.85 234.03,1146.99 236.04,1147.14 238.04,1147.28 240.04,1147.42 242.04,1147.55 244.05,1147.67 246.05,1147.80 248.05,1147.92 250.06,1148.03 252.06,1148.14 254.06,1148.24 256.06,1148.34 258.06,1148.43 260.07,1148.52 262.07,1148.60 264.07,1148.68 266.07,1148.75 268.08,1148.82 270.08,1148.88 272.08,1148.93 274.08,1148.98 276.09,1149.02 278.09,1149.05 280.09,1149.08 282.10,1149.10 284.10,1149.12 286.10,1149.13 288.10,1149.13 290.11,1149.12 292.11,1149.11 294.11,1149.10 296.11,1149.07 298.12,1149.04 300.12,1149.01 302.12,1148.96 304.12,1148.92 306.12,1148.86 308.13,1148.80 310.13,1148.73 312.13,1148.66 314.13,1148.58 316.14,1148.50 318.14,1148.41 320.14,1148.31 322.14,1148.21 324.15,1148.11 326.15,1148.00 328.15,1147.88 330.15,1147.76 332.16,1147.64 334.16,1147.51 336.16,1147.38 338.16,1147.24 340.17,1147.10 342.17,1146.95 344.17,1146.80 346.17,1146.65 348.18,1146.50 350.18,1146.34 352.18,1146.17 354.18,1146.01 356.19,1145.84 358.19,1145.67 360.19,1145.49 362.19,1145.31 364.20,1145.13 366.20,1144.95 368.20,1144.77 370.20,1144.58 372.21,1144.39 374.21,1144.20 376.21,1144.00 378.21,1143.81 380.22,1143.61 382.22,1143.41 384.22,1143.21 386.23,1143.00 388.23,1142.80 390.23,1142.59 392.23,1142.38 394.23,1142.17 396.24,1141.96 398.24,1141.75 400.24,1141.53 402.25,1141.32 404.25,1141.10 406.25,1140.88 408.25,1140.66 410.25,1140.44 412.26,1140.22 414.26,1140.00 416.26,1139.78 418.26,1139.55 420.27,1139.33 422.27,1139.10 424.27,1138.88 426.27,1138.65 428.28,1138.42 430.28,1138.19 432.28,1137.96 434.28,1137.73 436.29,1137.50 438.29,1137.27 440.29,1137.04 442.30,1136.80 444.30,1136.57 446.30,1136.33 448.30,1136.10 450.30,1135.86 452.31,1135.63 454.31,1135.39 456.31,1135.16 458.31,1134.92 460.32,1134.68 462.32,1134.44 464.32,1134.21 466.32,1133.97 468.33,1133.73 470.33,1133.49 472.33,1133.25 474.33,1133.01 476.34,1132.77 478.34,1132.53 480.34,1132.29 482.34,1132.05 484.35,1131.81 486.35,1131.57 488.35,1131.32 490.36,1131.08 492.36,1130.84 494.36,1130.60 496.36,1130.36 498.37,1130.11 500.37,1129.87 502.37,1129.63 504.37,1129.38 506.37,1129.14 508.38,1128.90 510.38,1128.65 512.38,1128.41 514.38,1128.17 516.39,1127.92 518.39,1127.68 520.39,1127.44 522.39,1127.19 524.40,1126.95 526.40,1126.71 528.40,1126.46 530.40,1126.22 532.41,1125.97 534.41,1125.73 536.41,1125.49 538.41,1125.24 540.42,1125.00 542.42,1124.75 544.42,1124.51 546.42,1124.26 548.43,1124.02 550.43,1123.78 552.43,1123.53 554.43,1123.29 556.44,1123.05 558.44,1122.80 560.44,1122.56 562.44,1122.31 564.45,1122.07 566.45,1121.83 568.45,1121.58 570.45,1121.34 572.46,1121.10 574.46,1120.85 576.46,1120.61 578.46,1120.37 580.47,1120.12 582.47,1119.88 584.47,1119.64 586.47,1119.39 588.48,1119.15 590.48,1118.91 592.48,1118.67 594.48,1118.43 596.49,1118.18 598.49,1117.94 600.49,1117.70 602.50,1117.46 604.50,1117.22 606.50,1116.97 608.50,1116.73 610.50,1116.49 612.51,1116.25 614.51,1116.01 616.51,1115.77 618.52,1115.53 620.52,1115.29 622.52,1115.05 624.52,1114.81 626.53,1114.57 628.53,1114.33 630.53,1114.09 632.53,1113.85 634.53,1113.61 636.54,1113.37 638.54,1113.13 640.54,1112.90 642.54,1112.66 644.55,1112.42 646.55,1112.18 648.55,1111.94 650.56,1111.71 652.56,1111.47 654.56,1111.23 656.56,1111.00 658.56,1110.76 660.57,1110.52 662.57,1110.29 664.57,1110.05 666.58,1109.81 668.58,1109.58 670.58,1109.34 672.58,1109.11 674.59,1108.87 676.59,1108.64 678.59,1108.41 680.59,1108.17 682.60,1107.94 684.60,1107.70 686.60,1107.47 688.60,1107.24 690.61,1107.01 692.61,1106.77 694.61,1106.54 696.61,1106.31 698.62,1106.08 700.62,1105.85 702.62,1105.61 704.62,1105.38 706.62,1105.15 708.63,1104.92 710.63,1104.69 712.63,1104.46 714.63,1104.23 716.64,1104.00 718.64,1103.78 720.64,1103.55 722.64,1103.32 724.65,1103.09 726.65,1102.86 728.65,1102.64 730.65,1102.41 732.66,1102.18 734.66,1101.96 736.66,1101.73 738.66,1101.50 740.67,1101.28 742.67,1101.05 744.67,1100.83 746.68,1100.60 748.68,1100.38 750.68,1100.15 752.68,1099.93 754.68,1099.71 756.69,1099.48 758.69,1099.26 760.69,1099.04 762.69,1098.82 764.70,1098.60 766.70,1098.37 768.70,1098.15 770.70,1097.93 772.71,1097.71 774.71,1097.49 776.71,1097.27 778.71,1097.05 780.72,1096.83 782.72,1096.62 784.72,1096.40 786.73,1096.18 788.73,1095.96 790.73,1095.75 792.73,1095.53 794.74,1095.31 796.74,1095.10 798.74,1094.88 800.74,1094.66 802.75,1094.45 804.75,1094.23 806.75,1094.02 808.75,1093.81 810.75,1093.59 812.76,1093.38 814.76,1093.17 816.76,1092.95 818.76,1092.74 820.77,1092.53 822.77,1092.32 824.77,1092.11 826.77,1091.90 828.78,1091.69 830.78,1091.48 832.78,1091.27 834.78,1091.06 836.79,1090.85 838.79,1090.64 840.79,1090.44 842.79,1090.23 844.80,1090.02 846.80,1089.81 848.80,1089.61 850.80,1089.40 852.81,1089.20 854.81,1088.99 856.81,1088.79 858.82,1088.58 860.82,1088.38 862.82,1088.18 864.82,1087.97 866.82,1087.77 868.83,1087.57 870.83,1087.37 872.83,1087.17 874.83,1086.96 876.84,1086.76 878.84,1086.56 880.84,1086.36 882.84,1086.16 884.85,1085.97 886.85,1085.77 888.85,1085.57 890.86,1085.37 892.86,1085.18 894.86,1084.98 896.86,1084.78 898.87,1084.59 900.87,1084.39 902.87,1084.20 904.87,1084.00 906.87,1083.81 908.88,1083.61 910.88,1083.42 912.88,1083.23 914.88,1083.04 916.89,1082.85 918.89,1082.65 920.89,1082.46 922.89,1082.27 924.90,1082.08 926.90,1081.89 928.90,1081.70 930.90,1081.52 932.91,1081.33 934.91,1081.14 936.91,1080.95 938.91,1080.77 940.92,1080.58 942.92,1080.39 944.92,1080.21 946.92,1080.02 948.93,1079.84 950.93,1079.66 952.93,1079.47 954.93,1079.29 956.94,1079.11 958.94,1078.92 960.94,1078.74 962.95,1078.56 964.95,1078.38 966.95,1078.20 968.95,1078.02 970.95,1077.84 972.96,1077.66 974.96,1077.48 976.96,1077.31 978.97,1077.13 980.97,1076.95 982.97,1076.78 984.97,1076.60 986.98,1076.43 988.98,1076.25 990.98,1076.08 992.98,1075.90 994.98,1075.73 996.99,1075.56 998.99,1075.38 1000.99,1075.21 1003.00,1075.04 1005.00,1074.87 1007.00,1074.70 1009.00,1074.53 1011.00,1074.36 1013.01,1074.19 1015.01,1074.02 1017.01,1073.86 1019.01,1073.69 1021.02,1073.52 1023.02,1073.36 1025.02,1073.19 1027.02,1073.03 1029.03,1072.86 1031.03,1072.70 1033.03,1072.53 1035.03,1072.37 1037.04,1072.21 1039.04,1072.04 1041.04,1071.88 1043.04,1071.72 1045.05,1071.56 1047.05,1071.40 1049.05,1071.24 1051.05,1071.08 1053.06,1070.92 1055.06,1070.77 1057.06,1070.61 1059.06,1070.45 1061.07,1070.30 1063.07,1070.14 1065.07,1069.99 1067.07,1069.83 1069.08,1069.68 1071.08,1069.52 1073.08,1069.37 1075.09,1069.22 1077.09,1069.06 1079.09,1068.91 1081.09,1068.76 1083.10,1068.61 1085.10,1068.46 1087.10,1068.31 1089.10,1068.16 1091.11,1068.02 1093.11,1067.87 1095.11,1067.72 1097.11,1067.57 1099.11,1067.43 1101.12,1067.28 1103.12,1067.14 1105.12,1066.99 1107.12,1066.85 1109.13,1066.71 1111.13,1066.56 1113.13,1066.42 1115.14,1066.28 1117.14,1066.14 1119.14,1066.00 1121.14,1065.86 1123.14,1065.72 1125.15,1065.58 1127.15,1065.44 1129.15,1065.30 1131.15,1065.17 1133.16,1065.03 1135.16,1064.89 1137.16,1064.76 1139.16,1064.62 1141.17,1064.49 1143.17,1064.36 1145.17,1064.22 1147.17,1064.09 1149.18,1063.96 1151.18,1063.83 1153.18,1063.70 1155.18,1063.57 1157.19,1063.44 1159.19,1063.31 1161.19,1063.18 1163.20,1063.05 1165.20,1062.92 1167.20,1062.80 1169.20,1062.67 1171.20,1062.54 1173.21,1062.42 1175.21,1062.30 1177.21,1062.17 1179.21,1062.05 1181.22,1061.93 1183.22,1061.80 1185.22,1061.68 1187.22,1061.56 1189.23,1061.44 1191.23,1061.32 1193.23,1061.20 1195.23,1061.08 1197.24,1060.96 1199.24,1060.85 1201.24,1060.73 1203.24,1060.61 1205.25,1060.50 1207.25,1060.38 1209.25,1060.27 1211.26,1060.16 1213.26,1060.04 1215.26,1059.93 1217.26,1059.82 1219.26,1059.71 1221.27,1059.59 1223.27,1059.48 1225.27,1059.37 1227.28,1059.27 1229.28,1059.16 1231.28,1059.05 1233.28,1058.94 1235.28,1058.84 1237.29,1058.73 1239.29,1058.62 1241.29,1058.52 1243.29,1058.42 1245.30,1058.31 1247.30,1058.21 1249.30,1058.11 1251.30,1058.00 1253.31,1057.90 1255.31,1057.80 1257.31,1057.70 1259.32,1057.60 1261.32,1057.50 1263.32,1057.41 1265.32,1057.31 1267.32,1057.21 1269.33,1057.12 1271.33,1057.02 1273.33,1056.93 1275.33,1056.83 1277.34,1056.74 1279.34,1056.64 1281.34,1056.55 1283.35,1056.46 1285.35,1056.37 1287.35,1056.28 1289.35,1056.19 1291.36,1056.10 1293.36,1056.01 1295.36,1055.92 1297.36,1055.83 1299.37,1055.75 1301.37,1055.66 1303.37,1055.57 1305.37,1055.49 1307.37,1055.40 1309.38,1055.32 1311.38,1055.24 1313.38,1055.16 1315.38,1055.07 1317.39,1054.99 1319.39,1054.91 1321.39,1054.83 1323.39,1054.75 1325.40,1054.67 1327.40,1054.59 1329.40,1054.52 1331.40,1054.44 1333.41,1054.36 1335.41,1054.29 1337.41,1054.21 1339.41,1054.14 1341.42,1054.07 1343.42,1053.99 1345.42,1053.92 1347.42,1053.85 1349.43,1053.78 1351.43,1053.71 1353.43,1053.64 1355.43,1053.57 1357.44,1053.50 1359.44,1053.43 1361.44,1053.36 1363.44,1053.30 1365.45,1053.23 1367.45,1053.17 1369.45,1053.10 1371.45,1053.04 1373.46,1052.97 1375.46,1052.91 1377.46,1052.85 1379.46,1052.79 1381.47,1052.73 1383.47,1052.67 1385.47,1052.61 1387.47,1052.55 1389.48,1052.49 1391.48,1052.43 1393.48,1052.37 1395.48,1052.32 1397.49,1052.26 1399.49,1052.21 1401.49,1052.15 1403.49,1052.10 1405.50,1052.04 1407.50,1051.99 1409.50,1051.94 1411.50,1051.89 1413.51,1051.84 1415.51,1051.79 1417.51,1051.74 1419.52,1051.69 1421.52,1051.64 1423.52,1051.60 1425.52,1051.55 1427.53,1051.50 1429.53,1051.46 1431.53,1051.41 1433.53,1051.37 1435.53,1051.33 1437.54,1051.28 1439.54,1051.24 1441.54,1051.20 1443.55,1051.16 1445.55,1051.12 1447.55,1051.08 1449.55,1051.04 1451.55,1051.00 1453.56,1050.96 1455.56,1050.93 1457.56,1050.89 1459.56,1050.86 1461.57,1050.82 1463.57,1050.79 1465.57,1050.75 1467.58,1050.72 1469.58,1050.69 1471.58,1050.66 1473.58,1050.62 1475.58,1050.59 1477.59,1050.56 1479.59,1050.54 1481.59,1050.51 1483.59,1050.48 1485.60,1050.45 1487.60,1050.43"/>
<polyline stroke="#EDB120" points="206.00,1146.21 208.00,1146.38 210.00,1146.54 212.01,1146.71 214.01,1146.87 216.01,1147.03 218.01,1147.18 220.02,1147.34 222.02,1147.49 224.02,1147.64 226.03,1147.78 228.03,1147.93 230.03,1148.07 232.03,1148.20 234.03,1148.34 236.04,1148.46 238.04,1148.59 240.04,1148.71 242.04,1148.83 244.05,1148.95 246.05,1149.06 248.05,1149.16 250.06,1149.27 252.06,1149.36 254.06,1149.46 256.06,1149.55 258.06,1149.63 260.07,1149.71 262.07,1149.78 264.07,1149.85 266.07,1149.92 268.08,1149.98 270.08,1150.03 272.08,1150.08 274.08,1150.12 276.09,1150.16 278.09,1150.19 280.09,1150.21 282.10,1150.23 284.10,1150.25 286.10,1150.25 288.10,1150.26 290.11,1150.25 292.11,1150.24 294.11,1150.23 296.11,1150.21 298.12,1150.18 300.12,1150.15 302.12,1150.11 304.12,1150.06 306.12,1150.02 308.13,1149.96 310.13,1149.90 312.13,1149.83 314.13,1149.76 316.14,1149.69 318.14,1149.61 320.14,1149.52 322.14,1149.43 324.15,1149.34 326.15,1149.24 328.15,1149.14 330.15,1149.03 332.16,1148.92 334.16,1148.80 336.16,1148.68 338.16,1148.56 340.17,1148.43 342.17,1148.30 344.17,1148.16 346.17,1148.03 348.18,1147.89 350.18,1147.74 352.18,1147.60 354.18,1147.45 356.19,1147.29 358.19,1147.14 360.19,1146.98 362.19,1146.82 364.20,1146.66 366.20,1146.50 368.20,1146.33 370.20,1146.16 372.21,1145.99 374.21,1145.82 376.21,1145.64 378.21,1145.46 380.22,1145.29 382.22,1145.11 384.22,1144.92 386.23,1144.74 388.23,1144.56 390.23,1144.37 392.23,1144.18 394.23,1143.99 396.24,1143.80 398.24,1143.61 400.24,1143.42 402.25,1143.23 404.25,1143.03 406.25,1142.83 408.25,1142.64 410.25,1142.44 412.26,1142.24 414.26,1142.04 416.26,1141.84 418.26,1141.64 420.27,1141.44 422.27,1141.23 424.27,1141.03 426.27,1140.82 428.28,1140.62 430.28,1140.41 432.28,1140.20 434.28,1140.00 436.29,1139.79 438.29,1139.58 440.29,1139.37 442.30,1139.16 444.30,1138.95 446.30,1138.74 448.30,1138.53 450.30,1138.32 452.31,1138.11 454.31,1137.89 456.31,1137.68 458.31,1137.47 460.32,1137.25 462.32,1137.04 464.32,1136.83 466.32,1136.61 468.33,1136.40 470.33,1136.18 472.33,1135.97 474.33,1135.75 476.34,1135.53 478.34,1135.32 480.34,1135.10 482.34,1134.88 484.35,1134.67 486.35,1134.45 488.35,1134.23 490.36,1134.01 492.36,1133.80 494.36,1133.58 496.36,1133.36 498.37,1133.14 500.37,1132.92 502.37,1132.70 504.37,1132.49 506.37,1132.27 508.38,1132.05 510.38,1131.83 512.38,1131.61 514.38,1131.39 516.39,1131.17 518.39,1130.95 520.39,1130.73 522.39,1130.51 524.40,1130.29 526.40,1130.07 528.40,1129.86 530.40,1129.64 532.41,1129.42 534.41,1129.20 536.41,1128.98 538.41,1128.76 540.42,1128.54 542.42,1128.32 544.42,1128.10 546.42,1127.88 548.43,1127.66 550.43,1127.44 552.43,1127.22 554.43,1127.00 556.44,1126.78 558.44,1126.56 560.44,1126.34 562.44,1126.12 564.45,1125.90 566.45,1125.68 568.45,1125.46 570.45,1125.25 572.46,1125.03 574.46,1124.81 576.46,1124.59 578.46,1124.37 580.47,1124.15 582.47,1123.93 584.47,1123.71 586.47,1123.50 588.48,1123.28 590.48,1123.06 592.48,1122.84 594.48,1122.62 596.49,1122.40 598.49,1122.19 600.49,1121.97 602.50,1121.75 604.50,1121.53 606.50,1121.32 608.50,1121.10 610.50,1120.88 612.51,1120.67 614.51,1120.45 616.51,1120.23 618.52,1120.02 620.52,1119.80 622.52,1119.58 624.52,1119.37 626.53,1119.15 628.53,1118.94 630.53,1118.72 632.53,1118.51 634.53,1118.29 636.54,1118.08 638.54,1117.86 640.54,1117.65 642.54,1117.43 644.55,1117.22 646.55,1117.00 648.55,1116.79 650.56,1116.58 652.56,1116.36 654.56,1116.15 656.56,1115.94 658.56,1115.72 660.57,1115.51 662.57,1115.30 664.57,1115.09 666.58,1114.87 668.58,1114.66 670.58,1114.45 672.58,1114.24 674.59,1114.03 676.59,1113.82 678.59,1113.60 680.59,1113.39 682.60,1113.18 684.60,1112.97 686.60,1112.76 688.60,1112.55 690.61,1112.34 692.61,1112.14 694.61,1111.93 696.61,1111.72 698.62,1111.51 700.62,1111.30 702.62,1111.09 704.62,1110.89 706.62,1110.68 708.63,1110.47 710.63,1110.26 712.63,1110.06 714.63,1109.85 716.64,1109.64 718.64,1109.44 720.64,1109.23 722.64,1109.03 724.65,1108.82 726.65,1108.62 728.65,1108.41 730.65,1108.21 732.66,1108.00 734.66,1107.80 736.66,1107.60 738.66,1107.39 740.67,1107.19 742.67,1106.99 744.67,1106.78 746.68,1106.58 748.68,1106.38 750.68,1106.18 752.68,1105.98 754.68,1105.78 756.69,1105.58 758.69,1105.38 760.69,1105.18 762.69,1104.98 764.70,1104.78 766.70,1104.58 768.70,1104.38 770.70,1104.18 772.71,1103.98 774.71,1103.78 776.71,1103.59 778.71,1103.39 780.72,1103.19 782.72,1102.99 784.72,1102.80 786.73,1102.60 788.73,1102.41 790.73,1102.21 792.73,1102.02 794.74,1101.82 796.74,1101.63 798.74,1101.43 800.74,1101.24 802.75,1101.04 804.75,1100.85 806.75,1100.66 808.75,1100.47 810.75,1100.27 812.76,1100.08 814.76,1099.89 816.76,1099.70 818.76,1099.51 820.77,1099.32 822.77,1099.13 824.77,1098.94 826.77,1098.75 828.78,1098.56 830.78,1098.37 832.78,1098.18 834.78,1097.99 836.79,1097.81 838.79,1097.62 840.79,1097.43 842.79,1097.25 844.80,1097.06 846.80,1096.87 848.80,1096.69 850.80,1096.50 852.81,1096.32 854.81,1096.13 856.81,1095.95 858.82,1095.76 860.82,1095.58 862.82,1095.40 864.82,1095.22 866.82,1095.03 868.83,1094.85 870.83,1094.67 872.83,1094.49 874.83,1094.31 876.84,1094.13 878.84,1093.95 880.84,1093.77 882.84,1093.59 884.85,1093.41 886.85,1093.23 888.85,1093.05 890.86,1092.88 892.86,1092.70 894.86,1092.52 896.86,1092.34 898.87,1092.17 900.87,1091.99 902.87,1091.82 904.87,1091.64 906.87,1091.47 908.88,1091.29 910.88,1091.12 912.88,1090.95 914.88,1090.77 916.89,1090.60 918.89,1090.43 920.89,1090.26 922.89,1090.09 924.90,1089.91 926.90,1089.74 928.90,1089.57 930.90,1089.40 932.91,1089.23 934.91,1089.07 936.91,1088.90 938.91,1088.73 940.92,1088.56 942.92,1088.39 944.92,1088.23 946.92,1088.06 948.93,1087.90 950.93,1087.73 952.93,1087.56 954.93,1087.40 956.94,1087.24 958.94,1087.07 960.94,1086.91 962.95,1086.75 964.95,1086.58 966.95,1086.42 968.95,1086.26 970.95,1086.10 972.96,1085.94 974.96,1085.78 976.96,1085.62 978.97,1085.46 980.97,1085.30 982.97,1085.14 984.97,1084.98 986.98,1084.82 988.98,1084.67 990.98,1084.51 992.98,1084.35 994.98,1084.20 996.99,1084.04 998.99,1083.89 1000.99,1083.73 1003.00,1083.58 1005.00,1083.42 1007.00,1083.27 1009.00,1083.12 1011.00,1082.97 1013.01,1082.81 1015.01,1082.66 1017.01,1082.51 1019.01,1082.36 1021.02,1082.21 1023.02,1082.06 1025.02,1081.91 1027.02,1081.76 1029.03,1081.61 1031.03,1081.47 1033.03,1081.32 1035.03,1081.17 1037.04,1081.03 1039.04,1080.88 1041.04,1080.73 1043.04,1080.59 1045.05,1080.45 1047.05,1080.30 1049.05,1080.16 1051.05,1080.01 1053.06,1079.87 1055.06,1079.73 1057.06,1079.59 1059.06,1079.45 1061.07,1079.31 1063.07,1079.17 1065.07,1079.03 1067.07,1078.89 1069.08,1078.75 1071.08,1078.61 1073.08,1078.47 1075.09,1078.34 1077.09,1078.20 1079.09,1078.06 1081.09,1077.93 1083.10,1077.79 1085.10,1077.66 1087.10,1077.52 1089.10,1077.39 1091.11,1077.25 1093.11,1077.12 1095.11,1076.99 1097.11,1076.86 1099.11,1076.73 1101.12,1076.59 1103.12,1076.46 1105.12,1076.33 1107.12,1076.20 1109.13,1076.08 1111.13,1075.95 1113.13,1075.82 1115.14,1075.69 1117.14,1075.56 1119.14,1075.44 1121.14,1075.31 1123.14,1075.19 1125.15,1075.06 1127.15,1074.94 1129.15,1074.81 1131.15,1074.69 1133.16,1074.57 1135.16,1074.45 1137.16,1074.32 1139.16,1074.20 1141.17,1074.08 1143.17,1073.96 1145.17,1073.84 1147.17,1073.72 1149.18,1073.60 1151.18,1073.48 1153.18,1073.37 1155.18,1073.25 1157.19,1073.13 1159.19,1073.02 1161.19,1072.90 1163.20,1072.79 1165.20,1072.67 1167.20,1072.56 1169.20,1072.44 1171.20,1072.33 1173.21,1072.22 1175.21,1072.11 1177.21,1071.99 1179.21,1071.88 1181.22,1071.77 1183.22,1071.66 1185.22,1071.55 1187.22,1071.44 1189.23,1071.34 1191.23,1071.23 1193.23,1071.12 1195.23,1071.01 1197.24,1070.91 1199.24,1070.80 1201.24,1070.70 1203.24,1070.59 1205.25,1070.49 1207.25,1070.38 1209.25,1070.28 1211.26,1070.18 1213.26,1070.08 1215.26,1069.98 1217.26,1069.88 1219.26,1069.78 1221.27,1069.68 1223.27,1069.58 1225.27,1069.48 1227.28,1069.38 1229.28,1069.28 1231.28,1069.18 1233.28,1069.09 1235.28,1068.99 1237.29,1068.90 1239.29,1068.80 1241.29,1068.71 1243.29,1068.61 1245.30,1068.52 1247.30,1068.43 1249.30,1068.34 1251.30,1068.24 1253.31,1068.15 1255.31,1068.06 1257.31,1067.97 1259.32,1067.88 1261.32,1067.79 1263.32,1067.71 1265.32,1067.62 1267.32,1067.53 1269.33,1067.44 1271.33,1067.36 1273.33,1067.27 1275.33,1067.19 1277.34,1067.10 1279.34,1067.02 1281.34,1066.94 1283.35,1066.85 1285.35,1066.77 1287.35,1066.69 1289.35,1066.61 1291.36,1066.53 1293.36,1066.45 1295.36,1066.37 1297.36,1066.29 1299.37,1066.21 1301.37,1066.13 1303.37,1066.06 1305.37,1065.98 1307.37,1065.90 1309.38,1065.83 1311.38,1065.75 1313.38,1065.68 1315.38,1065.61 1317.39,1065.53 1319.39,1065.46 1321.39,1065.39 1323.39,1065.32 1325.40,1065.25 1327.40,1065.18 1329.40,1065.11 1331.40,1065.04 1333.41,1064.97 1335.41,1064.90 1337.41,1064.83 1339.41,1064.77 1341.42,1064.70 1343.42,1064.63 1345.42,1064.57 1347.42,1064.50 1349.43,1064.44 1351.43,1064.38 1353.43,1064.31 1355.43,1064.25 1357.44,1064.19 1359.44,1064.13 1361.44,1064.07 1363.44,1064.01 1365.45,1063.95 1367.45,1063.89 1369.45,1063.83 1371.45,1063.77 1373.46,1063.72 1375.46,1063.66 1377.46,1063.60 1379.46,1063.55 1381.47,1063.49 1383.47,1063.44 1385.47,1063.38 1387.47,1063.33 1389.48,1063.28 1391.48,1063.23 1393.48,1063.18 1395.48,1063.13 1397.49,1063.08 1399.49,1063.03 1401.49,1062.98 1403.49,1062.93 1405.50,1062.88 1407.50,1062.83 1409.50,1062.79 1411.50,1062.74 1413.51,1062.69 1415.51,1062.65 1417.51,1062.61 1419.52,1062.56 1421.52,1062.52 1423.52,1062.48 1425.52,1062.43 1427.53,1062.39 1429.53,1062.35 1431.53,1062.31 1433.53,1062.27 1435.53,1062.23 1437.54,1062.19 1439.54,1062.16 1441.54,1062.12 1443.55,1062.08 1445.55,1062.05 1447.55,1062.01 1449.55,1061.98 1451.55,1061.94 1453.56,1061.91 1455.56,1061.87 1457.56,1061.84 1459.56,1061.81 1461.57,1061.78 1463.57,1061.75 1465.57,1061.72 1467.58,1061.69 1469.58,1061.66 1471.58,1061.63 1473.58,1061.60 1475.58,1061.58 1477.59,1061.55 1479.59,1061.52 1481.59,1061.50 1483.59,1061.47 1485.60,1061.45 1487.60,1061.42"/>
</g>
<text class="tk" x="206.00" y="1238.6" text-anchor="middle">0</text>
<text class="tk" x="490.15" y="1238.6" text-anchor="middle">20</text>
<text class="tk" x="774.30" y="1238.6" text-anchor="middle">40</text>
<text class="tk" x="1058.45" y="1238.6" text-anchor="middle">60</text>
<text class="tk" x="1342.60" y="1238.6" text-anchor="middle">80</text>
<text class="tk" x="188.3" y="1183.80" text-anchor="end">0</text>
<text class="tk" x="188.3" y="1041.88" text-anchor="end">10</text>
<text class="tk" x="188.3" y="899.95" text-anchor="end">20</text>
<text class="tk" x="188.3" y="758.03" text-anchor="end">30</text>
<text class="tk" x="188.3" y="616.10" text-anchor="end">40</text>
<text class="tk" x="188.3" y="474.17" text-anchor="end">50</text>
<text class="tk" x="188.3" y="332.25" text-anchor="end">60</text>
<text class="lb"><tspan x="714.40" y="1321.72" textLength="46.80" lengthAdjust="spacingAndGlyphs" style="font-family:'DejaVu Serif',serif;font-size:62.48px;font-style:italic" stroke="#fff" stroke-width="1.05">α</tspan> <tspan x="780.52" y="1324.69" textLength="24.13" lengthAdjust="spacingAndGlyphs" style="font-family:'Liberation Serif',serif;font-size:75.96px">[</tspan><tspan x="803.84" y="1320.8">DEG</tspan><tspan x="954.63" y="1324.69" textLength="23.53" lengthAdjust="spacingAndGlyphs" style="font-family:'Liberation Serif',serif;font-size:75.96px">]</tspan></text>
<text class="lb" transform="rotate(-90)"><tspan x="-859.87" y="65.58" textLength="40.54" lengthAdjust="spacingAndGlyphs" style="font-family:'DejaVu Serif',serif;font-size:61.31px;font-style:italic">σ</tspan><tspan x="-818.22" y="102.46" textLength="36.93" lengthAdjust="spacingAndGlyphs" style="font-family:'DejaVu Serif',serif;font-size:51.01px;font-style:italic" stroke="#fff" stroke-width="0.85">α</tspan><tspan x="-779.80" y="66.02" textLength="19.62" lengthAdjust="spacingAndGlyphs" style="font-family:'Liberation Serif',serif;font-size:77.76px">/</tspan><tspan x="-760.35" y="65.58" textLength="40.23" lengthAdjust="spacingAndGlyphs" style="font-family:'DejaVu Serif',serif;font-size:61.31px;font-style:italic">σ</tspan><tspan x="-719.85" y="102.40" textLength="41.07" lengthAdjust="spacingAndGlyphs" style="font-family:'Liberation Serif',serif;font-size:60.00px">R</tspan> <tspan x="-660.16" y="69.58" textLength="22.45" lengthAdjust="spacingAndGlyphs" style="font-family:'Liberation Serif',serif;font-size:76.81px">[</tspan><tspan x="-638.30" y="65.90">RAD/mm</tspan><tspan x="-349.23" y="69.58" textLength="22.16" lengthAdjust="spacingAndGlyphs" style="font-family:'Liberation Serif',serif;font-size:76.81px">]</tspan></text>
<rect x="224.60" y="44.05" width="395.70" height="705.85" fill="#fff" stroke="#1c1c1c" stroke-width="2.50"/>
<line x1="232" y1="82.00" x2="303" y2="82.00" stroke="#0072BD" stroke-width="2.1"/>
<text class="lg"><tspan x="307.98" y="102.90" textLength="50.03" lengthAdjust="spacingAndGlyphs" style="font-family:'Liberation Serif',serif;font-size:65.30px">Δ</tspan> <tspan x="373.11" y="103.20">s=0.1 mm</tspan></text>
<line x1="232" y1="152.00" x2="303" y2="152.00" stroke="#D95319" stroke-width="2.1"/>
<text class="lg"><tspan x="307.98" y="172.90" textLength="50.03" lengthAdjust="spacingAndGlyphs" style="font-family:'Liberation Serif',serif;font-size:65.30px">Δ</tspan> <tspan x="373.11" y="173.20">s=0.2 mm</tspan></text>
<line x1="232" y1="222.00" x2="303" y2="222.00" stroke="#EDB120" stroke-width="2.1"/>
<text class="lg"><tspan x="307.98" y="242.90" textLength="50.03" lengthAdjust="spacingAndGlyphs" style="font-family:'Liberation Serif',serif;font-size:65.30px">Δ</tspan> <tspan x="373.11" y="243.20">s=0.3 mm</tspan></text>
<line x1="232" y1="292.00" x2="303" y2="292.00" stroke="#7E2F8E" stroke-width="2.1"/>
<text class="lg"><tspan x="307.98" y="312.90" textLength="50.03" lengthAdjust="spacingAndGlyphs" style="font-family:'Liberation Serif',serif;font-size:65.30px">Δ</tspan> <tspan x="373.11" y="313.20">s=0.4 mm</tspan></text>
<line x1="232" y1="362.00" x2="303" y2="362.00" stroke="#77AC30" stroke-width="2.1"/>
<text class="lg"><tspan x="307.98" y="382.90" textLength="50.03" lengthAdjust="spacingAndGlyphs" style="font-family:'Liberation Serif',serif;font-size:65.30px">Δ</tspan> <tspan x="373.11" y="383.20">s=0.5 mm</tspan></text>
<line x1="232" y1="432.00" x2="303" y2="432.00" stroke="#4DBEEE" stroke-width="2.1"/>
<text class="lg"><tspan x="307.98" y="452.90" textLength="50.03" lengthAdjust="spacingAndGlyphs" style="font-family:'Liberation Serif',serif;font-size:65.30px">Δ</tspan> <tspan x="373.11" y="453.20">s=0.6 mm</tspan></text>
<line x1="232" y1="502.00" x2="303" y2="502.00" stroke="#A2142F" stroke-width="2.1"/>
<text class="lg"><tspan x="307.98" y="522.90" textLength="50.03" lengthAdjust="spacingAndGlyphs" style="font-family:'Liberation Serif',serif;font-size:65.30px">Δ</tspan> <tspan x="373.11" y="523.20">s=0.7 mm</tspan></text>
<line x1="232" y1="572.00" x2="303" y2="572.00" stroke="#0072BD" stroke-width="2.1"/>
<text class="lg"><tspan x="307.98" y="592.90" textLength="50.03" lengthAdjust="spacingAndGlyphs" style="font-family:'Liberation Serif',serif;font-size:65.30px">Δ</tspan> <tspan x="373.11" y="593.20">s=0.8 mm</tspan></text>
<line x1="232" y1="642.00" x2="303" y2="642.00" stroke="#D95319" stroke-width="2.1"/>
<text class="lg"><tspan x="307.98" y="662.90" textLength="50.03" lengthAdjust="spacingAndGlyphs" style="font-family:'Liberation Serif',serif;font-size:65.30px">Δ</tspan> <tspan x="373.11" y="663.20">s=0.9 mm</tspan></text>
<line x1="232" y1="712.00" x2="303" y2="712.00" stroke="#EDB120" stroke-width="2.1"/>
<text class="lg"><tspan x="307.98" y="732.90" textLength="50.03" lengthAdjust="spacingAndGlyphs" style="font-family:'Liberation Serif',serif;font-size:65.30px">Δ</tspan> <tspan x="373.11" y="733.20">s=1 mm</tspan></text>
</svg></body></html>
